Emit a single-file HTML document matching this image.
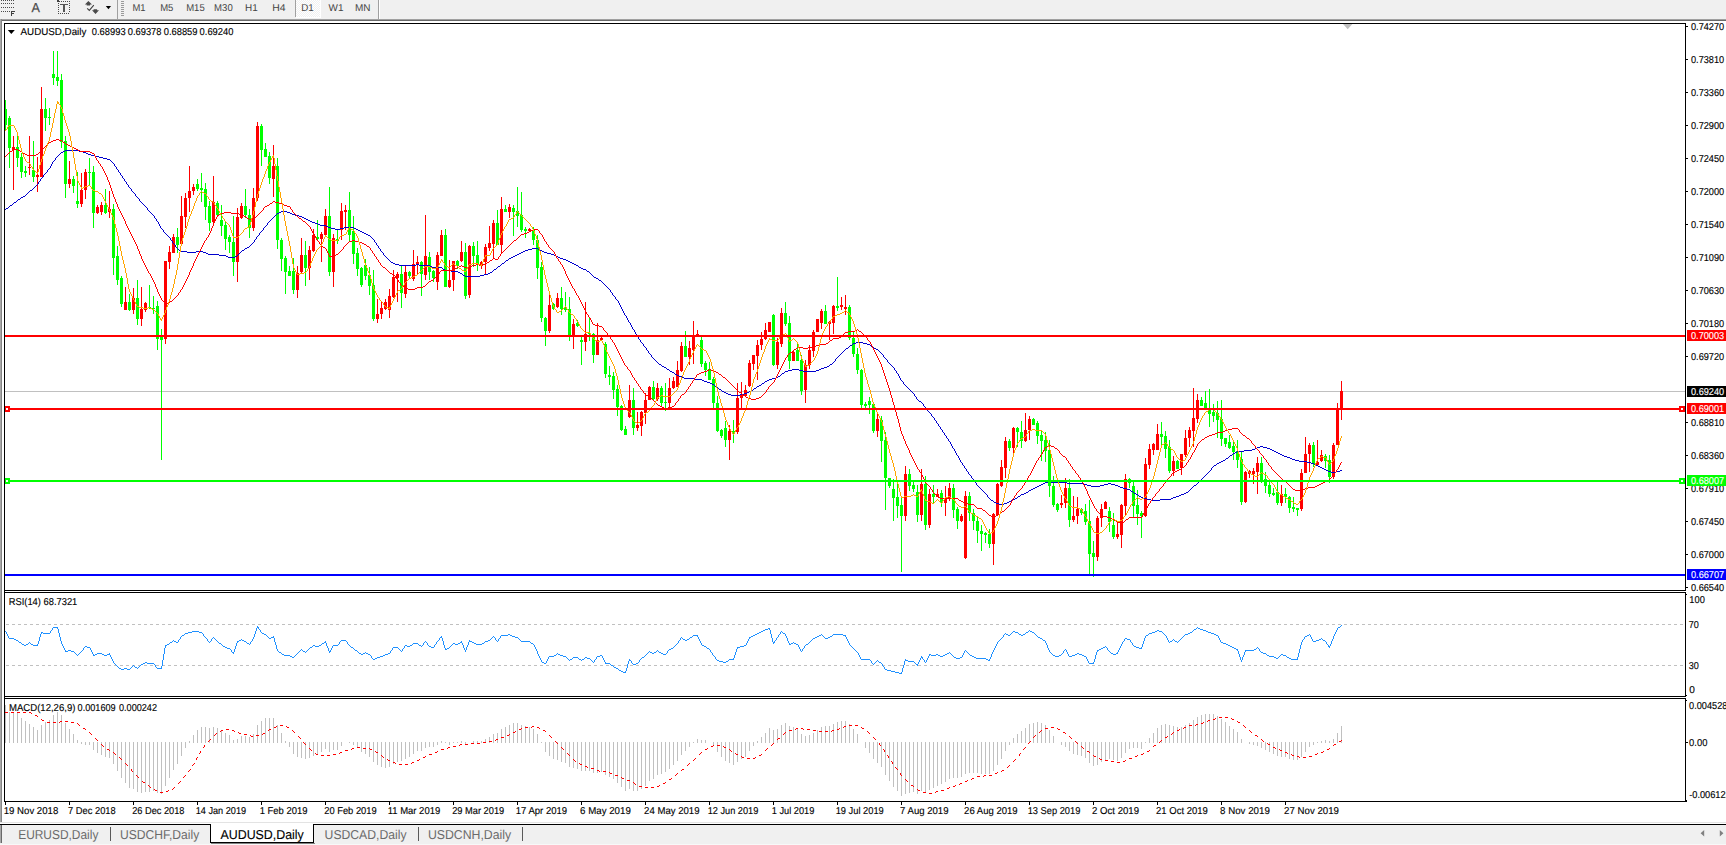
<!DOCTYPE html>
<html><head><meta charset="utf-8"><title>AUDUSD,Daily</title>
<style>
html,body{margin:0;padding:0;background:#fff;overflow:hidden}
body{width:1726px;height:845px;position:relative;font-family:"Liberation Sans",sans-serif}
svg{position:absolute;left:0;top:0;display:block}
svg text{font-family:"Liberation Sans",sans-serif;white-space:pre;text-rendering:geometricPrecision}
.ce{shape-rendering:crispEdges}
</style></head><body>
<svg width="1726" height="845" viewBox="0 0 1726 845">
<rect width="1726" height="845" fill="#fff"/>
<g class="ce" id="toolbar">
<rect x="0" y="0" width="1726" height="19" fill="#f0f0f0"/>
<rect x="0" y="19" width="1726" height="1" fill="#a0a0a0"/>
<rect x="0" y="20" width="1726" height="1" fill="#696969"/>
<rect x="0" y="19" width="1" height="804" fill="#a8a8a8"/>
<rect x="1" y="19" width="1" height="804" fill="#858585"/>
<rect x="117" y="0" width="1" height="19" fill="#a0a0a0"/>
<rect x="378" y="0" width="1" height="19" fill="#a0a0a0"/>
<rect x="379" y="0" width="1" height="19" fill="#ffffff"/>
<rect x="121" y="1" width="3" height="1" fill="#9a9a9a"/>
<rect x="121" y="3" width="3" height="1" fill="#9a9a9a"/>
<rect x="121" y="5" width="3" height="1" fill="#9a9a9a"/>
<rect x="121" y="7" width="3" height="1" fill="#9a9a9a"/>
<rect x="121" y="9" width="3" height="1" fill="#9a9a9a"/>
<rect x="121" y="11" width="3" height="1" fill="#9a9a9a"/>
<rect x="121" y="13" width="3" height="1" fill="#9a9a9a"/>
<rect x="121" y="15" width="3" height="1" fill="#9a9a9a"/>
<rect x="295" y="0" width="1" height="17" fill="#a0a0a0"/>
<defs><pattern id="chk" width="2" height="2" patternUnits="userSpaceOnUse"><rect width="2" height="2" fill="#f0f0f0"/><rect width="1" height="1" fill="#fff"/><rect x="1" y="1" width="1" height="1" fill="#fff"/></pattern></defs>
<rect x="296" y="0" width="24" height="17" fill="url(#chk)"/>
<rect x="320" y="0" width="1" height="18" fill="#ffffff"/>
<rect x="296" y="17" width="25" height="1" fill="#ffffff"/>
</g>
<g id="tbicons">
<path class="ce" d="M1,0h1v1h-1zM3,0h1v1h-1zM5,0h1v1h-1zM7,0h1v1h-1zM9,0h1v1h-1zM11,0h1v1h-1zM13,0h1v1h-1zM1,3h1v1h-1zM3,3h1v1h-1zM5,3h1v1h-1zM7,3h1v1h-1zM9,3h1v1h-1zM11,3h1v1h-1zM13,3h1v1h-1zM1,7h1v1h-1zM3,7h1v1h-1zM5,7h1v1h-1zM7,7h1v1h-1zM9,7h1v1h-1zM11,7h1v1h-1zM13,7h1v1h-1zM1,11h1v1h-1zM3,11h1v1h-1zM5,11h1v1h-1zM7,11h1v1h-1zM9,11h1v1h-1z" fill="#4a4a4a"/>
<path class="ce" d="M11,11h4v1h-3v1h2v1h-2v2h-1z" fill="#404040"/>
<text x="31.5" y="12.0" font-size="13" fill="#4c4c4c" textLength="8.4" lengthAdjust="spacingAndGlyphs" stroke="#4c4c4c" stroke-width="0.25">A</text>
<path class="ce" d="M61,1h1v1h-1zM63,1h1v1h-1zM65,1h1v1h-1zM67,1h1v1h-1zM69,1h1v1h-1zM58,3h1v1h-1zM58,5h1v1h-1zM58,7h1v1h-1zM58,9h1v1h-1zM58,11h1v1h-1zM58,13h1v1h-1zM69,3h1v1h-1zM69,5h1v1h-1zM69,7h1v1h-1zM69,9h1v1h-1zM69,11h1v1h-1zM60,13h1v1h-1zM62,13h1v1h-1zM64,13h1v1h-1zM66,13h1v1h-1zM68,13h1v1h-1z" fill="#4a4a4a"/>
<path class="ce" d="M57,0h2v1h1v1h-3z" fill="#404040"/>
<path class="ce" d="M60,4h8v1h-3v7h-2v-7h-3z" fill="#555"/>
<path d="M88.4,0.9L92,4.5H90.1V5.6H86.7V4.5H84.9z" fill="#4a4a4a"/>
<path d="M95.5,14L92,10.3H93.6V9.2H97.1V10.3H99z" fill="#4a4a4a"/>
<path d="M87.2,8.3L89.3,10.4L93.8,5.2" stroke="#404040" stroke-width="1.1" fill="none"/>
<path d="M105.8,6.1h5.3l-2.65,3.1z" fill="#000"/>
</g>
<g id="periods">
<text x="132.4" y="11.0" font-size="10.0" fill="#444444" textLength="13.1" lengthAdjust="spacingAndGlyphs">M1</text>
<text x="160.2" y="11.0" font-size="10.0" fill="#444444" textLength="13.2" lengthAdjust="spacingAndGlyphs">M5</text>
<text x="186.2" y="11.0" font-size="10.0" fill="#444444" textLength="18.5" lengthAdjust="spacingAndGlyphs">M15</text>
<text x="214.1" y="11.0" font-size="10.0" fill="#444444" textLength="18.6" lengthAdjust="spacingAndGlyphs">M30</text>
<text x="245.0" y="11.0" font-size="10.0" fill="#444444" textLength="12.7" lengthAdjust="spacingAndGlyphs">H1</text>
<text x="272.2" y="11.0" font-size="10.0" fill="#444444" textLength="13.3" lengthAdjust="spacingAndGlyphs">H4</text>
<text x="301.2" y="11.0" font-size="10.0" fill="#444444" textLength="12.5" lengthAdjust="spacingAndGlyphs">D1</text>
<text x="328.6" y="11.0" font-size="10.0" fill="#444444" textLength="14.9" lengthAdjust="spacingAndGlyphs">W1</text>
<text x="354.9" y="11.0" font-size="10.0" fill="#444444" textLength="15.5" lengthAdjust="spacingAndGlyphs">MN</text>
</g>
<g class="ce"><rect x="5" y="391" width="1680" height="1" fill="#c0c0c0"/></g>
<g id="candles">
<g shape-rendering="crispEdges"><path fill="#00ff00" d="M5,100h1v30h-1zM9,116h1v52h-1zM17,135h1v32h-1zM21,153h1v25h-1zM25,166h1v11h-1zM33,141h1v41h-1zM45,98h1v33h-1zM49,108h1v17h-1zM53,51h1v34h-1zM57,51h1v35h-1zM61,74h1v74h-1zM65,136h1v62h-1zM73,176h1v17h-1zM77,172h1v36h-1zM89,158h1v27h-1zM93,166h1v62h-1zM105,189h1v25h-1zM113,204h1v71h-1zM117,246h1v39h-1zM121,276h1v31h-1zM129,294h1v17h-1zM137,280h1v45h-1zM149,285h1v24h-1zM153,296h1v18h-1zM157,301h1v49h-1zM161,329h1v131h-1zM177,228h1v25h-1zM197,179h1v12h-1zM201,173h1v29h-1zM205,183h1v37h-1zM209,201h1v30h-1zM217,201h1v16h-1zM221,205h1v31h-1zM225,221h1v29h-1zM229,235h1v18h-1zM233,216h1v60h-1zM245,189h1v29h-1zM249,209h1v29h-1zM261,124h1v42h-1zM265,143h1v14h-1zM269,152h1v32h-1zM277,158h1v91h-1zM281,238h1v33h-1zM285,256h1v38h-1zM289,266h1v10h-1zM293,258h1v36h-1zM305,241h1v45h-1zM317,220h1v21h-1zM329,187h1v89h-1zM337,229h1v15h-1zM349,192h1v49h-1zM353,216h1v48h-1zM357,248h1v28h-1zM361,267h1v20h-1zM365,259h1v21h-1zM369,267h1v28h-1zM373,270h1v51h-1zM401,266h1v42h-1zM409,271h1v7h-1zM421,261h1v35h-1zM429,252h1v28h-1zM433,270h1v12h-1zM445,229h1v58h-1zM457,260h1v9h-1zM465,243h1v56h-1zM473,242h1v25h-1zM477,241h1v30h-1zM497,210h1v35h-1zM505,205h1v7h-1zM513,205h1v31h-1zM517,187h1v40h-1zM521,192h1v40h-1zM525,227h1v11h-1zM533,227h1v18h-1zM537,235h1v44h-1zM541,262h1v60h-1zM545,317h1v29h-1zM553,303h1v7h-1zM561,287h1v28h-1zM565,292h1v20h-1zM569,297h1v44h-1zM577,320h1v7h-1zM581,336h1v29h-1zM589,318h1v23h-1zM593,333h1v30h-1zM605,342h1v36h-1zM609,366h1v19h-1zM613,372h1v27h-1zM617,385h1v31h-1zM621,405h1v26h-1zM625,426h1v9h-1zM633,388h1v47h-1zM653,381h1v19h-1zM661,386h1v20h-1zM665,383h1v28h-1zM685,331h1v26h-1zM701,337h1v30h-1zM705,361h1v15h-1zM709,362h1v18h-1zM713,377h1v31h-1zM717,396h1v36h-1zM721,429h1v9h-1zM725,421h1v26h-1zM733,420h1v23h-1zM773,314h1v52h-1zM785,302h1v24h-1zM789,316h1v53h-1zM797,342h1v19h-1zM801,355h1v40h-1zM825,305h1v19h-1zM837,277h1v34h-1zM849,305h1v35h-1zM853,331h1v26h-1zM857,348h1v26h-1zM861,369h1v39h-1zM865,402h1v6h-1zM869,397h1v17h-1zM873,403h1v30h-1zM881,416h1v46h-1zM885,432h1v78h-1zM889,478h1v10h-1zM893,479h1v42h-1zM897,483h1v35h-1zM901,496h1v76h-1zM909,469h1v22h-1zM913,482h1v10h-1zM917,485h1v37h-1zM925,476h1v54h-1zM933,485h1v18h-1zM941,490h1v17h-1zM953,484h1v34h-1zM957,507h1v22h-1zM969,492h1v29h-1zM973,509h1v21h-1zM977,516h1v27h-1zM981,525h1v26h-1zM985,532h1v11h-1zM989,529h1v19h-1zM1009,439h1v12h-1zM1017,427h1v20h-1zM1021,421h1v27h-1zM1033,418h1v7h-1zM1037,421h1v23h-1zM1041,431h1v30h-1zM1045,432h1v30h-1zM1049,440h1v57h-1zM1053,476h1v31h-1zM1057,503h1v9h-1zM1069,479h1v48h-1zM1081,508h1v7h-1zM1085,504h1v21h-1zM1089,500h1v75h-1zM1093,541h1v36h-1zM1109,507h1v25h-1zM1113,513h1v26h-1zM1129,478h1v10h-1zM1133,482h1v35h-1zM1137,490h1v35h-1zM1141,511h1v27h-1zM1161,422h1v23h-1zM1165,431h1v27h-1zM1169,440h1v33h-1zM1177,460h1v9h-1zM1201,397h1v9h-1zM1205,391h1v19h-1zM1209,389h1v38h-1zM1213,404h1v18h-1zM1217,401h1v37h-1zM1221,400h1v46h-1zM1225,438h1v9h-1zM1229,435h1v14h-1zM1233,441h1v19h-1zM1237,440h1v28h-1zM1241,452h1v53h-1zM1261,457h1v26h-1zM1265,472h1v21h-1zM1269,482h1v15h-1zM1273,488h1v8h-1zM1277,481h1v24h-1zM1285,488h1v15h-1zM1289,496h1v17h-1zM1293,497h1v15h-1zM1297,508h1v8h-1zM1313,442h1v25h-1zM1325,454h1v14h-1zM1329,455h1v28h-1zM4,109h3v16h-3zM8,118h3v30h-3zM16,147h3v11h-3zM20,157h3v15h-3zM24,171h3v2h-3zM32,170h3v7h-3zM44,109h3v9h-3zM48,117h3v1h-3zM52,74h3v4h-3zM56,77h3v4h-3zM60,80h3v62h-3zM64,141h3v43h-3zM72,179h3v7h-3zM76,201h3v3h-3zM88,172h3v1h-3zM92,172h3v41h-3zM104,205h3v8h-3zM112,209h3v49h-3zM116,256h3v24h-3zM120,278h3v26h-3zM128,302h3v8h-3zM136,298h3v21h-3zM148,307h3v1h-3zM152,308h3v1h-3zM156,306h3v33h-3zM160,336h3v4h-3zM176,237h3v8h-3zM196,184h3v5h-3zM200,188h3v2h-3zM204,189h3v18h-3zM208,206h3v17h-3zM216,203h3v12h-3zM220,220h3v6h-3zM224,225h3v14h-3zM228,237h3v5h-3zM232,242h3v20h-3zM244,206h3v9h-3zM248,215h3v13h-3zM260,126h3v24h-3zM264,149h3v8h-3zM268,156h3v22h-3zM276,166h3v74h-3zM280,240h3v19h-3zM284,258h3v14h-3zM288,271h3v5h-3zM292,271h3v19h-3zM304,255h3v13h-3zM316,237h3v2h-3zM328,216h3v56h-3zM336,239h3v2h-3zM348,210h3v25h-3zM352,231h3v23h-3zM356,253h3v16h-3zM360,268h3v17h-3zM364,265h3v11h-3zM368,275h3v11h-3zM372,285h3v34h-3zM400,274h3v19h-3zM408,272h3v4h-3zM420,262h3v12h-3zM428,257h3v15h-3zM432,271h3v7h-3zM444,235h3v52h-3zM456,261h3v5h-3zM464,252h3v44h-3zM472,246h3v10h-3zM476,255h3v10h-3zM496,223h3v22h-3zM504,209h3v3h-3zM512,208h3v4h-3zM516,211h3v5h-3zM520,215h3v15h-3zM524,229h3v2h-3zM532,230h3v10h-3zM536,240h3v28h-3zM540,267h3v51h-3zM544,318h3v13h-3zM552,304h3v5h-3zM560,298h3v11h-3zM564,308h3v2h-3zM568,309h3v26h-3zM576,323h3v3h-3zM580,340h3v2h-3zM588,333h3v1h-3zM592,334h3v21h-3zM604,344h3v30h-3zM608,375h3v2h-3zM612,376h3v14h-3zM616,389h3v18h-3zM620,406h3v24h-3zM624,429h3v6h-3zM632,400h3v28h-3zM652,387h3v12h-3zM660,388h3v15h-3zM664,402h3v1h-3zM684,346h3v11h-3zM700,340h3v24h-3zM704,363h3v7h-3zM708,369h3v11h-3zM712,379h3v24h-3zM716,403h3v28h-3zM720,430h3v6h-3zM724,428h3v12h-3zM732,431h3v2h-3zM772,315h3v50h-3zM784,313h3v11h-3zM788,323h3v38h-3zM796,350h3v11h-3zM800,360h3v31h-3zM824,311h3v13h-3zM836,306h3v2h-3zM848,307h3v31h-3zM852,338h3v16h-3zM856,354h3v16h-3zM860,370h3v35h-3zM864,404h3v2h-3zM868,401h3v4h-3zM872,404h3v27h-3zM880,420h3v21h-3zM884,440h3v38h-3zM888,478h3v8h-3zM892,489h3v9h-3zM896,497h3v9h-3zM900,505h3v11h-3zM908,474h3v12h-3zM912,485h3v4h-3zM916,492h3v23h-3zM924,484h3v41h-3zM932,494h3v3h-3zM940,493h3v10h-3zM952,488h3v22h-3zM956,509h3v12h-3zM968,496h3v17h-3zM972,513h3v8h-3zM976,521h3v10h-3zM980,531h3v3h-3zM984,533h3v2h-3zM988,534h3v10h-3zM1008,441h3v7h-3zM1016,428h3v4h-3zM1020,432h3v9h-3zM1032,419h3v6h-3zM1036,423h3v13h-3zM1040,435h3v6h-3zM1044,440h3v11h-3zM1048,450h3v36h-3zM1052,486h3v19h-3zM1056,504h3v6h-3zM1068,488h3v32h-3zM1080,509h3v4h-3zM1084,511h3v11h-3zM1088,521h3v33h-3zM1092,553h3v4h-3zM1108,511h3v11h-3zM1112,525h3v12h-3zM1128,479h3v4h-3zM1132,486h3v20h-3zM1136,505h3v9h-3zM1140,513h3v3h-3zM1160,434h3v3h-3zM1164,436h3v13h-3zM1168,447h3v24h-3zM1176,461h3v8h-3zM1200,400h3v6h-3zM1204,403h3v5h-3zM1208,408h3v6h-3zM1212,412h3v4h-3zM1216,413h3v7h-3zM1220,419h3v20h-3zM1224,438h3v6h-3zM1228,442h3v6h-3zM1232,446h3v6h-3zM1236,451h3v9h-3zM1240,459h3v43h-3zM1260,463h3v18h-3zM1264,479h3v7h-3zM1268,485h3v9h-3zM1272,493h3v2h-3zM1276,492h3v11h-3zM1284,494h3v3h-3zM1288,497h3v11h-3zM1292,507h3v2h-3zM1296,508h3v2h-3zM1312,445h3v19h-3zM1324,456h3v5h-3zM1328,460h3v17h-3z"/><path fill="#ff0000" d="M13,136h1v54h-1zM29,136h1v39h-1zM37,157h1v35h-1zM41,87h1v90h-1zM69,161h1v27h-1zM81,173h1v34h-1zM85,169h1v30h-1zM97,205h1v9h-1zM101,202h1v13h-1zM109,191h1v27h-1zM125,287h1v23h-1zM133,288h1v26h-1zM141,287h1v39h-1zM145,302h1v10h-1zM165,261h1v83h-1zM169,246h1v23h-1zM173,234h1v19h-1zM181,196h1v49h-1zM185,193h1v35h-1zM189,166h1v46h-1zM193,184h1v11h-1zM213,176h1v48h-1zM237,208h1v74h-1zM241,203h1v16h-1zM253,188h1v43h-1zM257,122h1v79h-1zM273,145h1v52h-1zM297,266h1v32h-1zM301,238h1v35h-1zM309,246h1v34h-1zM313,229h1v23h-1zM321,232h1v30h-1zM325,209h1v26h-1zM333,234h1v53h-1zM341,203h1v37h-1zM345,205h1v25h-1zM377,299h1v24h-1zM381,302h1v17h-1zM385,299h1v11h-1zM389,289h1v29h-1zM393,270h1v28h-1zM397,272h1v30h-1zM405,266h1v32h-1zM413,250h1v31h-1zM417,256h1v18h-1zM425,215h1v65h-1zM437,252h1v38h-1zM441,230h1v26h-1zM449,260h1v28h-1zM453,261h1v30h-1zM461,241h1v21h-1zM469,245h1v53h-1zM481,261h1v8h-1zM485,244h1v30h-1zM489,226h1v25h-1zM493,220h1v38h-1zM501,197h1v56h-1zM509,204h1v14h-1zM529,228h1v3h-1zM549,294h1v39h-1zM557,293h1v15h-1zM573,319h1v30h-1zM585,302h1v49h-1zM597,323h1v32h-1zM601,337h1v3h-1zM629,385h1v33h-1zM637,412h1v19h-1zM641,411h1v25h-1zM645,393h1v31h-1zM649,386h1v14h-1zM657,383h1v18h-1zM669,378h1v29h-1zM673,377h1v12h-1zM677,361h1v26h-1zM681,342h1v30h-1zM689,341h1v24h-1zM693,321h1v43h-1zM697,330h1v7h-1zM729,425h1v35h-1zM737,383h1v51h-1zM741,382h1v26h-1zM745,385h1v11h-1zM749,360h1v27h-1zM753,355h1v15h-1zM757,340h1v40h-1zM761,332h1v18h-1zM765,323h1v17h-1zM769,322h1v10h-1zM777,338h1v31h-1zM781,308h1v39h-1zM793,351h1v10h-1zM805,360h1v43h-1zM809,345h1v24h-1zM813,330h1v27h-1zM817,319h1v13h-1zM821,309h1v20h-1zM829,321h1v19h-1zM833,305h1v29h-1zM841,297h1v13h-1zM845,295h1v20h-1zM877,413h1v24h-1zM905,466h1v55h-1zM921,469h1v52h-1zM929,489h1v39h-1zM937,489h1v8h-1zM945,486h1v30h-1zM949,483h1v18h-1zM961,514h1v8h-1zM965,491h1v68h-1zM993,513h1v52h-1zM997,483h1v33h-1zM1001,460h1v27h-1zM1005,437h1v41h-1zM1013,427h1v26h-1zM1025,413h1v29h-1zM1029,416h1v24h-1zM1061,495h1v13h-1zM1065,478h1v30h-1zM1073,496h1v26h-1zM1077,497h1v27h-1zM1097,516h1v45h-1zM1101,504h1v23h-1zM1105,501h1v8h-1zM1117,522h1v17h-1zM1121,504h1v44h-1zM1125,474h1v41h-1zM1145,458h1v59h-1zM1149,444h1v25h-1zM1153,443h1v12h-1zM1157,424h1v26h-1zM1173,456h1v20h-1zM1181,454h1v21h-1zM1185,430h1v27h-1zM1189,427h1v20h-1zM1193,388h1v59h-1zM1197,394h1v29h-1zM1245,471h1v32h-1zM1249,470h1v8h-1zM1253,468h1v16h-1zM1257,457h1v37h-1zM1281,485h1v21h-1zM1301,469h1v42h-1zM1305,437h1v36h-1zM1309,443h1v29h-1zM1317,440h1v25h-1zM1321,450h1v12h-1zM1333,443h1v36h-1zM1337,403h1v42h-1zM1341,381h1v39h-1zM12,147h3v3h-3zM28,167h3v1h-3zM36,175h3v2h-3zM40,109h3v68h-3zM68,179h3v5h-3zM80,190h3v14h-3zM84,172h3v18h-3zM96,207h3v6h-3zM100,205h3v7h-3zM108,209h3v3h-3zM124,302h3v8h-3zM132,298h3v12h-3zM140,309h3v10h-3zM144,303h3v7h-3zM164,261h3v78h-3zM168,252h3v10h-3zM172,237h3v16h-3zM180,216h3v28h-3zM184,198h3v19h-3zM188,191h3v7h-3zM192,187h3v4h-3zM212,202h3v20h-3zM236,217h3v45h-3zM240,206h3v12h-3zM252,198h3v30h-3zM256,126h3v72h-3zM272,166h3v13h-3zM296,273h3v17h-3zM300,255h3v17h-3zM308,250h3v18h-3zM312,235h3v16h-3zM320,234h3v5h-3zM324,216h3v19h-3zM332,238h3v34h-3zM340,211h3v19h-3zM344,210h3v2h-3zM376,314h3v5h-3zM380,308h3v6h-3zM384,302h3v7h-3zM388,296h3v14h-3zM392,277h3v20h-3zM396,274h3v4h-3zM404,272h3v22h-3zM412,264h3v15h-3zM416,262h3v3h-3zM424,256h3v19h-3zM436,255h3v27h-3zM440,235h3v21h-3zM448,280h3v7h-3zM452,261h3v19h-3zM460,252h3v9h-3zM468,246h3v49h-3zM480,262h3v3h-3zM484,247h3v15h-3zM488,243h3v5h-3zM492,223h3v21h-3zM500,209h3v36h-3zM508,207h3v5h-3zM528,229h3v2h-3zM548,305h3v26h-3zM556,298h3v9h-3zM572,324h3v12h-3zM584,334h3v8h-3zM596,340h3v15h-3zM600,338h3v2h-3zM628,400h3v17h-3zM636,425h3v3h-3zM640,412h3v14h-3zM644,400h3v13h-3zM648,387h3v13h-3zM656,388h3v11h-3zM668,388h3v15h-3zM672,381h3v7h-3zM676,370h3v17h-3zM680,346h3v25h-3zM688,348h3v9h-3zM692,336h3v14h-3zM696,334h3v2h-3zM728,431h3v9h-3zM736,398h3v34h-3zM740,395h3v3h-3zM744,390h3v6h-3zM748,363h3v23h-3zM752,355h3v9h-3zM756,345h3v11h-3zM760,339h3v6h-3zM764,330h3v9h-3zM768,322h3v10h-3zM776,342h3v23h-3zM780,313h3v31h-3zM792,352h3v9h-3zM804,365h3v25h-3zM808,350h3v15h-3zM812,332h3v19h-3zM816,319h3v13h-3zM820,311h3v12h-3zM828,322h3v2h-3zM832,306h3v17h-3zM840,305h3v2h-3zM844,307h3v2h-3zM876,419h3v12h-3zM904,474h3v42h-3zM920,484h3v31h-3zM928,494h3v31h-3zM936,494h3v3h-3zM944,498h3v5h-3zM948,488h3v11h-3zM960,516h3v5h-3zM964,496h3v62h-3zM992,514h3v30h-3zM996,484h3v31h-3zM1000,467h3v19h-3zM1004,441h3v27h-3zM1012,428h3v20h-3zM1024,430h3v11h-3zM1028,419h3v11h-3zM1060,503h3v2h-3zM1064,488h3v15h-3zM1072,516h3v4h-3zM1076,509h3v7h-3zM1096,518h3v39h-3zM1100,509h3v9h-3zM1104,502h3v7h-3zM1116,534h3v3h-3zM1120,505h3v30h-3zM1124,479h3v27h-3zM1144,464h3v52h-3zM1148,449h3v16h-3zM1152,444h3v6h-3zM1156,434h3v16h-3zM1172,461h3v10h-3zM1180,454h3v14h-3zM1184,438h3v17h-3zM1188,430h3v8h-3zM1192,418h3v13h-3zM1196,400h3v19h-3zM1244,472h3v30h-3zM1248,471h3v3h-3zM1252,471h3v3h-3zM1256,463h3v9h-3zM1280,494h3v9h-3zM1300,473h3v36h-3zM1304,454h3v19h-3zM1308,445h3v9h-3zM1316,462h3v3h-3zM1320,455h3v6h-3zM1332,445h3v32h-3zM1336,408h3v37h-3zM1340,391h3v17h-3z"/></g>
</g>
<g id="mas">
<g shape-rendering="crispEdges"><path fill="#0000cd" d="M5,209h1v1h-1zM6,208h2v1h-2zM8,207h1v1h-1zM9,206h1v1h-1zM10,205h2v1h-2zM12,204h1v1h-1zM13,203h1v1h-1zM14,202h2v1h-2zM16,201h1v1h-1zM17,200h1v1h-1zM18,199h2v1h-2zM20,198h1v1h-1zM21,197h2v1h-2zM23,196h2v1h-2zM25,195h1v1h-1zM26,194h1v1h-1zM27,193h1v1h-1zM28,192h1v1h-1zM29,191h1v1h-1zM30,190h2v1h-2zM32,189h1v1h-1zM33,188h1v1h-1zM34,187h1v1h-1zM35,186h1v1h-1zM36,185h1v1h-1zM37,184h1v1h-1zM38,182h1v2h-1zM39,181h1v1h-1zM40,179h1v2h-1zM41,178h1v1h-1zM42,177h1v1h-1zM43,175h1v2h-1zM44,174h1v1h-1zM45,173h1v1h-1zM46,172h1v1h-1zM47,170h1v2h-1zM48,169h1v1h-1zM49,168h1v1h-1zM50,166h1v2h-1zM51,164h1v2h-1zM52,162h1v2h-1zM53,161h1v1h-1zM54,160h1v1h-1zM55,158h1v2h-1zM56,157h1v1h-1zM57,156h1v1h-1zM58,155h1v1h-1zM59,154h1v1h-1zM60,153h1v1h-1zM61,152h2v1h-2zM63,151h2v1h-2zM65,150h14v1h-14zM79,151h4v1h-4zM83,152h3v1h-3zM86,153h2v1h-2zM88,154h3v1h-3zM91,155h4v1h-4zM95,156h4v1h-4zM99,157h4v1h-4zM103,158h4v1h-4zM107,159h3v1h-3zM110,160h1v1h-1zM111,161h1v1h-1zM112,162h1v1h-1zM113,163h1v1h-1zM114,164h1v2h-1zM115,166h1v1h-1zM116,167h1v2h-1zM117,169h1v1h-1zM118,170h1v2h-1zM119,172h1v1h-1zM120,173h1v2h-1zM121,175h1v1h-1zM122,176h1v2h-1zM123,178h1v1h-1zM124,179h1v2h-1zM125,181h1v1h-1zM126,182h1v2h-1zM127,184h1v1h-1zM128,185h1v2h-1zM129,187h1v1h-1zM130,188h1v1h-1zM131,189h1v2h-1zM132,191h1v1h-1zM133,192h1v1h-1zM134,193h1v1h-1zM135,194h1v2h-1zM136,196h1v1h-1zM137,197h1v1h-1zM138,198h1v1h-1zM139,199h1v2h-1zM140,201h1v1h-1zM141,202h1v1h-1zM142,203h1v1h-1zM143,204h1v1h-1zM144,205h1v1h-1zM145,206h1v1h-1zM146,207h1v1h-1zM147,208h1v2h-1zM148,210h1v1h-1zM149,211h1v1h-1zM150,212h1v1h-1zM151,213h1v1h-1zM152,214h1v1h-1zM153,215h1v1h-1zM154,216h1v2h-1zM155,218h1v1h-1zM156,219h1v2h-1zM157,221h1v1h-1zM158,222h1v2h-1zM159,224h1v2h-1zM160,226h1v2h-1zM161,228h1v1h-1zM162,229h1v1h-1zM163,230h1v2h-1zM164,232h1v1h-1zM165,233h1v1h-1zM166,234h1v1h-1zM167,235h1v1h-1zM168,236h1v1h-1zM169,237h1v1h-1zM170,238h1v2h-1zM171,240h1v1h-1zM172,241h1v2h-1zM173,243h1v1h-1zM174,244h1v1h-1zM175,245h1v2h-1zM176,247h1v1h-1zM177,248h1v1h-1zM178,249h1v1h-1zM179,250h2v1h-2zM181,251h6v1h-6zM187,252h9v1h-9zM196,251h7v1h-7zM203,252h3v1h-3zM206,253h2v1h-2zM208,254h11v1h-11zM219,255h7v1h-7zM226,256h2v1h-2zM228,257h7v1h-7zM235,256h2v1h-2zM237,255h1v1h-1zM238,254h1v1h-1zM239,253h1v1h-1zM240,252h1v1h-1zM241,251h1v1h-1zM242,250h2v1h-2zM244,249h1v1h-1zM245,248h2v1h-2zM247,247h2v1h-2zM249,246h1v1h-1zM250,245h1v1h-1zM251,244h1v1h-1zM252,243h1v1h-1zM253,242h1v1h-1zM254,240h1v2h-1zM255,239h1v1h-1zM256,237h1v2h-1zM257,236h1v1h-1zM258,235h1v1h-1zM259,233h1v2h-1zM260,232h1v1h-1zM261,231h1v1h-1zM262,230h1v1h-1zM263,228h1v2h-1zM264,227h1v1h-1zM265,226h1v1h-1zM266,225h1v1h-1zM267,223h1v2h-1zM268,222h1v1h-1zM269,221h1v1h-1zM270,220h1v1h-1zM271,219h1v1h-1zM272,218h1v1h-1zM273,217h1v1h-1zM274,216h1v1h-1zM275,215h1v1h-1zM276,214h1v1h-1zM277,213h2v1h-2zM279,212h2v1h-2zM281,211h6v1h-6zM287,212h3v1h-3zM290,213h2v1h-2zM292,214h3v1h-3zM295,215h4v1h-4zM299,216h3v1h-3zM302,217h2v1h-2zM304,218h2v1h-2zM306,219h2v1h-2zM308,220h2v1h-2zM310,221h2v1h-2zM312,222h3v1h-3zM315,223h3v1h-3zM318,224h2v1h-2zM320,225h6v1h-6zM326,226h2v1h-2zM328,227h3v1h-3zM331,228h4v1h-4zM335,229h5v1h-5zM340,228h4v1h-4zM344,227h10v1h-10zM354,228h2v1h-2zM356,229h2v1h-2zM358,230h2v1h-2zM360,231h2v1h-2zM362,232h2v1h-2zM364,233h2v1h-2zM366,234h2v1h-2zM368,235h2v1h-2zM370,236h1v1h-1zM371,237h1v1h-1zM372,238h1v1h-1zM373,239h1v1h-1zM374,240h1v2h-1zM375,242h1v1h-1zM376,243h1v2h-1zM377,245h1v1h-1zM378,246h1v2h-1zM379,248h1v1h-1zM380,249h1v2h-1zM381,251h1v1h-1zM382,252h1v1h-1zM383,253h1v2h-1zM384,255h1v1h-1zM385,256h1v1h-1zM386,257h1v1h-1zM387,258h1v1h-1zM388,259h1v1h-1zM389,260h1v1h-1zM390,261h1v1h-1zM391,262h2v1h-2zM393,263h2v1h-2zM395,264h4v1h-4zM399,265h17v1h-17zM416,264h3v1h-3zM419,265h11v1h-11zM430,266h2v1h-2zM432,267h10v1h-10zM442,268h1v1h-1zM443,269h2v1h-2zM445,270h6v1h-6zM451,271h7v1h-7zM458,272h2v1h-2zM460,273h2v1h-2zM462,274h1v1h-1zM463,275h2v1h-2zM465,276h15v1h-15zM480,275h4v1h-4zM484,274h4v1h-4zM488,273h2v1h-2zM490,272h2v1h-2zM492,271h1v1h-1zM493,270h1v1h-1zM494,269h2v1h-2zM496,268h1v1h-1zM497,267h1v1h-1zM498,266h2v1h-2zM500,265h1v1h-1zM501,264h1v1h-1zM502,263h2v1h-2zM504,262h1v1h-1zM505,261h1v1h-1zM506,260h2v1h-2zM508,259h1v1h-1zM509,258h2v1h-2zM511,257h2v1h-2zM513,256h2v1h-2zM515,255h2v1h-2zM517,254h2v1h-2zM519,253h2v1h-2zM521,252h2v1h-2zM523,251h2v1h-2zM525,250h3v1h-3zM528,249h4v1h-4zM532,248h6v1h-6zM538,249h2v1h-2zM540,250h2v1h-2zM542,251h2v1h-2zM544,252h3v1h-3zM547,253h4v1h-4zM551,254h3v1h-3zM554,255h2v1h-2zM556,256h2v1h-2zM558,257h2v1h-2zM560,258h3v1h-3zM563,259h3v1h-3zM566,260h2v1h-2zM568,261h2v1h-2zM570,262h2v1h-2zM572,263h2v1h-2zM574,264h2v1h-2zM576,265h2v1h-2zM578,266h1v1h-1zM579,267h2v1h-2zM581,268h2v1h-2zM583,269h3v1h-3zM586,270h1v1h-1zM587,271h2v1h-2zM589,272h1v1h-1zM590,273h1v1h-1zM591,274h1v1h-1zM592,275h1v1h-1zM593,276h1v1h-1zM594,277h2v1h-2zM596,278h2v1h-2zM598,279h1v1h-1zM599,280h2v1h-2zM601,281h1v1h-1zM602,282h1v1h-1zM603,283h1v1h-1zM604,284h1v1h-1zM605,285h1v1h-1zM606,286h1v1h-1zM607,287h1v1h-1zM608,288h1v1h-1zM609,289h1v1h-1zM610,290h1v2h-1zM611,292h1v1h-1zM612,293h1v2h-1zM613,295h1v1h-1zM614,296h1v1h-1zM615,297h1v2h-1zM616,299h1v1h-1zM617,300h1v1h-1zM618,301h1v2h-1zM619,303h1v2h-1zM620,305h1v2h-1zM621,307h1v2h-1zM622,309h1v2h-1zM623,311h1v2h-1zM624,313h1v2h-1zM625,315h1v1h-1zM626,316h1v2h-1zM627,318h1v2h-1zM628,320h1v2h-1zM629,322h1v1h-1zM630,323h1v2h-1zM631,325h1v2h-1zM632,327h1v2h-1zM633,329h1v1h-1zM634,330h1v2h-1zM635,332h1v2h-1zM636,334h1v2h-1zM637,336h1v1h-1zM638,337h1v2h-1zM639,339h1v1h-1zM640,340h1v2h-1zM641,342h1v1h-1zM642,343h1v1h-1zM643,344h1v2h-1zM644,346h1v1h-1zM645,347h1v1h-1zM646,348h1v2h-1zM647,350h1v1h-1zM648,351h1v2h-1zM649,353h1v1h-1zM650,354h1v1h-1zM651,355h1v2h-1zM652,357h1v1h-1zM653,358h1v1h-1zM654,359h1v1h-1zM655,360h1v1h-1zM656,361h1v1h-1zM657,362h1v1h-1zM658,363h1v1h-1zM659,364h2v1h-2zM661,365h1v1h-1zM662,366h2v1h-2zM664,367h2v1h-2zM666,368h1v1h-1zM667,369h2v1h-2zM669,370h1v1h-1zM670,371h2v1h-2zM672,372h2v1h-2zM674,373h1v1h-1zM675,374h2v1h-2zM677,375h2v1h-2zM679,376h3v1h-3zM682,377h2v1h-2zM684,378h11v1h-11zM695,379h7v1h-7zM702,380h2v1h-2zM704,381h3v1h-3zM707,382h3v1h-3zM710,383h2v1h-2zM712,384h2v1h-2zM714,385h1v1h-1zM715,386h2v1h-2zM717,387h1v1h-1zM718,388h1v1h-1zM719,389h2v1h-2zM721,390h1v1h-1zM722,391h2v1h-2zM724,392h2v1h-2zM726,393h2v1h-2zM728,394h3v1h-3zM731,395h9v1h-9zM740,394h4v1h-4zM744,393h3v1h-3zM747,392h2v1h-2zM749,391h2v1h-2zM751,390h2v1h-2zM753,389h1v1h-1zM754,388h2v1h-2zM756,387h1v1h-1zM757,386h2v1h-2zM759,385h2v1h-2zM761,384h1v1h-1zM762,383h2v1h-2zM764,382h1v1h-1zM765,381h2v1h-2zM767,380h2v1h-2zM769,379h3v1h-3zM772,378h4v1h-4zM776,377h2v1h-2zM778,376h2v1h-2zM780,375h1v1h-1zM781,374h1v1h-1zM782,373h2v1h-2zM784,372h1v1h-1zM785,371h3v1h-3zM788,370h4v1h-4zM792,369h7v1h-7zM799,370h4v1h-4zM803,371h13v1h-13zM816,370h3v1h-3zM819,369h2v1h-2zM821,368h3v1h-3zM824,367h3v1h-3zM827,366h2v1h-2zM829,365h1v1h-1zM830,364h2v1h-2zM832,363h1v1h-1zM833,362h1v1h-1zM834,361h1v1h-1zM835,359h1v2h-1zM836,358h1v1h-1zM837,357h1v1h-1zM838,356h1v1h-1zM839,355h1v1h-1zM840,354h1v1h-1zM841,353h1v1h-1zM842,352h1v1h-1zM843,351h1v1h-1zM844,350h1v1h-1zM845,349h1v1h-1zM846,348h2v1h-2zM848,347h1v1h-1zM849,346h1v1h-1zM850,345h2v1h-2zM852,344h1v1h-1zM853,343h3v1h-3zM856,342h7v1h-7zM863,343h4v1h-4zM867,344h3v1h-3zM870,345h1v1h-1zM871,346h2v1h-2zM873,347h1v1h-1zM874,348h2v1h-2zM876,349h2v1h-2zM878,350h1v1h-1zM879,351h1v1h-1zM880,352h1v1h-1zM881,353h1v1h-1zM882,354h1v1h-1zM883,355h1v2h-1zM884,357h1v1h-1zM885,358h1v1h-1zM886,359h1v1h-1zM887,360h1v2h-1zM888,362h1v1h-1zM889,363h1v1h-1zM890,364h1v1h-1zM891,365h1v1h-1zM892,366h1v1h-1zM893,367h1v1h-1zM894,368h1v2h-1zM895,370h1v1h-1zM896,371h1v2h-1zM897,373h1v1h-1zM898,374h1v2h-1zM899,376h1v2h-1zM900,378h1v2h-1zM901,380h1v1h-1zM902,381h1v1h-1zM903,382h1v2h-1zM904,384h1v1h-1zM905,385h1v1h-1zM906,386h1v1h-1zM907,387h1v1h-1zM908,388h1v1h-1zM909,389h1v1h-1zM910,390h1v1h-1zM911,391h1v1h-1zM912,392h1v1h-1zM913,393h1v1h-1zM914,394h1v2h-1zM915,396h1v1h-1zM916,397h1v2h-1zM917,399h1v1h-1zM918,400h1v1h-1zM919,401h2v1h-2zM921,402h1v1h-1zM922,403h1v1h-1zM923,404h1v2h-1zM924,406h1v1h-1zM925,407h1v1h-1zM926,408h1v1h-1zM927,409h1v2h-1zM928,411h1v1h-1zM929,412h1v1h-1zM930,413h1v1h-1zM931,414h1v2h-1zM932,416h1v1h-1zM933,417h1v1h-1zM934,418h1v2h-1zM935,420h1v1h-1zM936,421h1v2h-1zM937,423h1v1h-1zM938,424h1v2h-1zM939,426h1v1h-1zM940,427h1v2h-1zM941,429h1v1h-1zM942,430h1v2h-1zM943,432h1v1h-1zM944,433h1v2h-1zM945,435h1v1h-1zM946,436h1v2h-1zM947,438h1v1h-1zM948,439h1v2h-1zM949,441h1v1h-1zM950,442h1v2h-1zM951,444h1v2h-1zM952,446h1v2h-1zM953,448h1v1h-1zM954,449h1v2h-1zM955,451h1v2h-1zM956,453h1v2h-1zM957,455h1v1h-1zM958,456h1v2h-1zM959,458h1v2h-1zM960,460h1v2h-1zM961,462h1v1h-1zM962,463h1v2h-1zM963,465h1v1h-1zM964,466h1v2h-1zM965,468h1v1h-1zM966,469h1v2h-1zM967,471h1v1h-1zM968,472h1v2h-1zM969,474h1v1h-1zM970,475h1v1h-1zM971,476h1v2h-1zM972,478h1v1h-1zM973,479h1v1h-1zM974,480h1v2h-1zM975,482h1v1h-1zM976,483h1v2h-1zM977,485h1v1h-1zM978,486h1v1h-1zM979,487h1v1h-1zM980,488h1v1h-1zM981,489h1v1h-1zM982,490h1v1h-1zM983,491h1v1h-1zM984,492h1v1h-1zM985,493h1v1h-1zM986,494h1v1h-1zM987,495h1v2h-1zM988,497h1v1h-1zM989,498h1v1h-1zM990,499h1v1h-1zM991,500h2v1h-2zM993,501h1v1h-1zM994,502h2v1h-2zM996,503h3v1h-3zM999,504h5v1h-5zM1004,503h3v1h-3zM1007,502h2v1h-2zM1009,501h2v1h-2zM1011,500h2v1h-2zM1013,499h2v1h-2zM1015,498h2v1h-2zM1017,497h1v1h-1zM1018,496h2v1h-2zM1020,495h1v1h-1zM1021,494h3v1h-3zM1024,493h2v1h-2zM1026,492h2v1h-2zM1028,491h1v1h-1zM1029,490h2v1h-2zM1031,489h2v1h-2zM1033,488h2v1h-2zM1035,487h2v1h-2zM1037,486h2v1h-2zM1039,485h2v1h-2zM1041,484h2v1h-2zM1043,483h2v1h-2zM1045,482h3v1h-3zM1048,481h3v1h-3zM1051,482h16v1h-16zM1067,483h16v1h-16zM1083,484h4v1h-4zM1087,485h4v1h-4zM1091,486h9v1h-9zM1100,485h4v1h-4zM1104,484h4v1h-4zM1108,483h3v1h-3zM1111,484h4v1h-4zM1115,485h3v1h-3zM1118,486h2v1h-2zM1120,487h3v1h-3zM1123,488h4v1h-4zM1127,489h3v1h-3zM1130,490h1v1h-1zM1131,491h2v1h-2zM1133,492h1v1h-1zM1134,493h2v1h-2zM1136,494h2v1h-2zM1138,495h1v1h-1zM1139,496h2v1h-2zM1141,497h2v1h-2zM1143,498h4v1h-4zM1147,499h4v1h-4zM1151,500h9v1h-9zM1160,499h11v1h-11zM1171,498h2v1h-2zM1173,497h3v1h-3zM1176,496h3v1h-3zM1179,495h2v1h-2zM1181,494h3v1h-3zM1184,493h2v1h-2zM1186,492h2v1h-2zM1188,491h1v1h-1zM1189,490h1v1h-1zM1190,489h1v1h-1zM1191,488h1v1h-1zM1192,487h1v1h-1zM1193,486h1v1h-1zM1194,485h2v1h-2zM1196,484h1v1h-1zM1197,483h1v1h-1zM1198,482h1v1h-1zM1199,481h1v1h-1zM1200,480h1v1h-1zM1201,479h1v1h-1zM1202,478h1v1h-1zM1203,477h1v1h-1zM1204,476h1v1h-1zM1205,475h1v1h-1zM1206,474h1v1h-1zM1207,473h1v1h-1zM1208,472h1v1h-1zM1209,471h1v1h-1zM1210,470h1v1h-1zM1211,468h1v2h-1zM1212,467h1v1h-1zM1213,466h1v1h-1zM1214,465h2v1h-2zM1216,464h1v1h-1zM1217,463h2v1h-2zM1219,462h2v1h-2zM1221,461h2v1h-2zM1223,460h2v1h-2zM1225,459h1v1h-1zM1226,458h2v1h-2zM1228,457h1v1h-1zM1229,456h1v1h-1zM1230,455h2v1h-2zM1232,454h1v1h-1zM1233,453h2v1h-2zM1235,452h2v1h-2zM1237,451h7v1h-7zM1244,450h8v1h-8zM1252,449h3v1h-3zM1255,448h2v1h-2zM1257,447h3v1h-3zM1260,446h3v1h-3zM1263,447h4v1h-4zM1267,448h3v1h-3zM1270,449h2v1h-2zM1272,450h2v1h-2zM1274,451h2v1h-2zM1276,452h2v1h-2zM1278,453h2v1h-2zM1280,454h2v1h-2zM1282,455h2v1h-2zM1284,456h3v1h-3zM1287,457h3v1h-3zM1290,458h2v1h-2zM1292,459h3v1h-3zM1295,460h4v1h-4zM1299,461h8v1h-8zM1307,462h4v1h-4zM1311,463h3v1h-3zM1314,464h2v1h-2zM1316,465h2v1h-2zM1318,466h2v1h-2zM1320,467h2v1h-2zM1322,468h2v1h-2zM1324,469h2v1h-2zM1326,470h2v1h-2zM1328,471h3v1h-3zM1331,472h5v1h-5zM1336,471h4v1h-4zM1340,470h2v1h-2z"/><path fill="#ff0000" d="M5,156h1v1h-1zM6,155h1v1h-1zM7,154h1v1h-1zM8,153h1v1h-1zM9,152h1v1h-1zM10,151h2v1h-2zM12,150h1v1h-1zM13,149h5v1h-5zM18,150h2v1h-2zM20,151h2v1h-2zM22,152h1v1h-1zM23,153h2v1h-2zM25,154h2v1h-2zM27,155h9v1h-9zM36,154h2v1h-2zM38,153h1v1h-1zM39,152h1v1h-1zM40,151h1v1h-1zM41,150h1v1h-1zM42,149h1v1h-1zM43,148h1v1h-1zM44,147h1v1h-1zM45,146h1v1h-1zM46,145h1v1h-1zM47,144h1v1h-1zM48,143h1v1h-1zM49,142h2v1h-2zM51,141h2v1h-2zM53,140h3v1h-3zM56,139h3v1h-3zM59,140h3v1h-3zM62,141h1v1h-1zM63,142h2v1h-2zM65,143h1v1h-1zM66,144h2v1h-2zM68,145h2v1h-2zM70,146h2v1h-2zM72,147h2v1h-2zM74,148h2v1h-2zM76,149h2v1h-2zM78,150h2v1h-2zM80,151h10v1h-10zM90,152h2v1h-2zM92,153h2v1h-2zM94,154h1v2h-1zM95,156h1v2h-1zM96,158h1v2h-1zM97,160h1v1h-1zM98,161h1v2h-1zM99,163h1v1h-1zM100,164h1v2h-1zM101,166h1v1h-1zM102,167h1v2h-1zM103,169h1v2h-1zM104,171h1v2h-1zM105,173h1v2h-1zM106,175h1v2h-1zM107,177h1v3h-1zM108,180h1v2h-1zM109,182h1v3h-1zM110,185h1v3h-1zM111,188h1v3h-1zM112,191h1v3h-1zM113,194h1v3h-1zM114,197h1v2h-1zM115,199h1v3h-1zM116,202h1v2h-1zM117,204h1v3h-1zM118,207h1v2h-1zM119,209h1v2h-1zM120,211h1v2h-1zM121,213h1v2h-1zM122,215h1v2h-1zM123,217h1v2h-1zM124,219h1v2h-1zM125,221h1v3h-1zM126,224h1v2h-1zM127,226h1v2h-1zM128,228h1v2h-1zM129,230h1v2h-1zM130,232h1v2h-1zM131,234h1v2h-1zM132,236h1v2h-1zM133,238h1v2h-1zM134,240h1v2h-1zM135,242h1v2h-1zM136,244h1v2h-1zM137,246h1v3h-1zM138,249h1v2h-1zM139,251h1v3h-1zM140,254h1v2h-1zM141,256h1v3h-1zM142,259h1v2h-1zM143,261h1v2h-1zM144,263h1v2h-1zM145,265h1v2h-1zM146,267h1v2h-1zM147,269h1v2h-1zM148,271h1v2h-1zM149,273h1v1h-1zM150,274h1v2h-1zM151,276h1v2h-1zM152,278h1v2h-1zM153,280h1v2h-1zM154,282h1v2h-1zM155,284h1v3h-1zM156,287h1v2h-1zM157,289h1v3h-1zM158,292h1v2h-1zM159,294h1v2h-1zM160,296h1v2h-1zM161,298h1v2h-1zM162,300h1v1h-1zM163,301h1v1h-1zM164,302h1v1h-1zM165,303h3v1h-3zM168,302h2v1h-2zM170,301h2v1h-2zM172,300h1v1h-1zM173,299h1v1h-1zM174,298h1v1h-1zM175,297h1v1h-1zM176,296h1v1h-1zM177,295h1v1h-1zM178,293h1v2h-1zM179,292h1v1h-1zM180,290h1v2h-1zM181,289h1v1h-1zM182,287h1v2h-1zM183,285h1v2h-1zM184,283h1v2h-1zM185,281h1v2h-1zM186,279h1v2h-1zM187,277h1v2h-1zM188,275h1v2h-1zM189,272h1v3h-1zM190,270h1v2h-1zM191,268h1v2h-1zM192,266h1v2h-1zM193,263h1v3h-1zM194,261h1v2h-1zM195,259h1v2h-1zM196,257h1v2h-1zM197,255h1v2h-1zM198,253h1v2h-1zM199,251h1v2h-1zM200,249h1v2h-1zM201,247h1v2h-1zM202,245h1v2h-1zM203,243h1v2h-1zM204,241h1v2h-1zM205,240h1v1h-1zM206,238h1v2h-1zM207,237h1v1h-1zM208,235h1v2h-1zM209,233h1v2h-1zM210,231h1v2h-1zM211,228h1v3h-1zM212,226h1v2h-1zM213,223h1v3h-1zM214,221h1v2h-1zM215,219h1v2h-1zM216,217h1v2h-1zM217,215h1v2h-1zM218,215h1v1h-1zM219,214h2v1h-2zM221,213h3v1h-3zM224,212h7v1h-7zM231,213h8v1h-8zM239,214h3v1h-3zM242,215h2v1h-2zM244,216h2v1h-2zM246,217h1v1h-1zM247,218h2v1h-2zM249,219h5v1h-5zM254,218h1v1h-1zM255,217h1v1h-1zM256,216h1v1h-1zM257,215h1v1h-1zM258,214h1v1h-1zM259,213h1v1h-1zM260,212h1v1h-1zM261,211h1v1h-1zM262,210h1v1h-1zM263,208h1v2h-1zM264,207h1v1h-1zM265,206h2v1h-2zM267,205h2v1h-2zM269,204h1v1h-1zM270,203h2v1h-2zM272,202h1v1h-1zM273,201h2v1h-2zM275,202h4v1h-4zM279,203h3v1h-3zM282,204h2v1h-2zM284,205h3v1h-3zM287,206h3v1h-3zM290,207h1v2h-1zM291,209h1v1h-1zM292,210h1v2h-1zM293,212h1v1h-1zM294,213h1v1h-1zM295,214h1v1h-1zM296,215h1v1h-1zM297,216h1v1h-1zM298,217h1v1h-1zM299,218h2v1h-2zM301,219h1v1h-1zM302,220h1v1h-1zM303,221h2v1h-2zM305,222h1v1h-1zM306,223h1v1h-1zM307,224h1v1h-1zM308,225h1v1h-1zM309,226h1v1h-1zM310,227h1v2h-1zM311,229h1v2h-1zM312,231h1v2h-1zM313,233h1v1h-1zM314,234h1v2h-1zM315,236h1v2h-1zM316,238h1v2h-1zM317,240h1v1h-1zM318,241h1v1h-1zM319,242h1v2h-1zM320,244h1v1h-1zM321,245h1v1h-1zM322,246h1v1h-1zM323,247h2v1h-2zM325,248h1v1h-1zM326,249h1v2h-1zM327,251h1v2h-1zM328,253h1v2h-1zM329,255h1v2h-1zM330,256h2v1h-2zM332,255h4v1h-4zM336,254h2v1h-2zM338,253h1v1h-1zM339,252h1v1h-1zM340,251h1v1h-1zM341,250h1v1h-1zM342,249h1v1h-1zM343,247h1v2h-1zM344,246h1v1h-1zM345,245h1v1h-1zM346,244h1v1h-1zM347,243h1v1h-1zM348,242h1v1h-1zM349,241h3v1h-3zM352,240h3v1h-3zM355,241h4v1h-4zM359,242h3v1h-3zM362,243h2v1h-2zM364,244h2v1h-2zM366,245h1v1h-1zM367,246h2v1h-2zM369,247h1v1h-1zM370,248h1v2h-1zM371,250h1v1h-1zM372,251h1v2h-1zM373,253h1v1h-1zM374,254h1v2h-1zM375,256h1v1h-1zM376,257h1v2h-1zM377,259h1v1h-1zM378,260h1v2h-1zM379,262h1v1h-1zM380,263h1v2h-1zM381,265h1v1h-1zM382,266h1v1h-1zM383,267h2v1h-2zM385,268h1v1h-1zM386,269h1v1h-1zM387,270h1v1h-1zM388,271h1v1h-1zM389,272h1v1h-1zM390,273h2v1h-2zM392,274h2v1h-2zM394,275h1v1h-1zM395,276h1v2h-1zM396,278h1v1h-1zM397,279h1v1h-1zM398,280h1v2h-1zM399,282h1v1h-1zM400,283h1v2h-1zM401,285h1v1h-1zM402,286h2v1h-2zM404,287h2v1h-2zM406,288h2v1h-2zM408,289h7v1h-7zM415,288h2v1h-2zM417,287h6v1h-6zM423,286h2v1h-2zM425,285h1v1h-1zM426,284h1v1h-1zM427,283h1v1h-1zM428,282h1v1h-1zM429,281h2v1h-2zM431,280h2v1h-2zM433,279h1v1h-1zM434,278h1v1h-1zM435,277h1v1h-1zM436,276h1v1h-1zM437,275h1v1h-1zM438,274h1v1h-1zM439,272h1v2h-1zM440,271h1v1h-1zM441,270h11v1h-11zM452,269h3v1h-3zM455,268h2v1h-2zM457,267h2v1h-2zM459,266h2v1h-2zM461,265h1v1h-1zM462,266h2v1h-2zM464,267h4v1h-4zM468,266h4v1h-4zM472,265h4v1h-4zM476,264h3v1h-3zM479,265h4v1h-4zM483,264h2v1h-2zM485,263h2v1h-2zM487,262h2v1h-2zM489,261h1v1h-1zM490,260h2v1h-2zM492,259h1v1h-1zM493,258h2v1h-2zM495,259h3v1h-3zM498,257h1v2h-1zM499,256h1v1h-1zM500,254h1v2h-1zM501,253h1v1h-1zM502,252h1v1h-1zM503,251h1v1h-1zM504,250h1v1h-1zM505,249h1v1h-1zM506,248h1v1h-1zM507,247h1v1h-1zM508,246h1v1h-1zM509,245h1v1h-1zM510,244h1v1h-1zM511,243h1v1h-1zM512,242h1v1h-1zM513,241h1v1h-1zM514,240h2v1h-2zM516,239h1v1h-1zM517,238h1v1h-1zM518,237h1v1h-1zM519,236h1v1h-1zM520,235h1v1h-1zM521,234h3v1h-3zM524,233h3v1h-3zM527,232h2v1h-2zM529,231h2v1h-2zM531,230h2v1h-2zM533,229h5v1h-5zM538,230h1v1h-1zM539,231h1v2h-1zM540,233h1v1h-1zM541,234h1v1h-1zM542,235h1v2h-1zM543,237h1v2h-1zM544,239h1v2h-1zM545,241h1v1h-1zM546,242h1v2h-1zM547,244h1v1h-1zM548,245h1v2h-1zM549,247h1v1h-1zM550,248h1v1h-1zM551,249h1v1h-1zM552,250h1v1h-1zM553,251h1v1h-1zM554,252h1v2h-1zM555,254h1v2h-1zM556,256h1v2h-1zM557,258h1v1h-1zM558,259h1v2h-1zM559,261h1v1h-1zM560,262h1v2h-1zM561,264h1v1h-1zM562,265h1v2h-1zM563,267h1v2h-1zM564,269h1v2h-1zM565,271h1v3h-1zM566,274h1v2h-1zM567,276h1v2h-1zM568,278h1v2h-1zM569,280h1v2h-1zM570,282h1v2h-1zM571,284h1v2h-1zM572,286h1v2h-1zM573,288h1v1h-1zM574,289h1v2h-1zM575,291h1v2h-1zM576,293h1v2h-1zM577,295h1v1h-1zM578,296h1v2h-1zM579,298h1v2h-1zM580,300h1v2h-1zM581,302h1v2h-1zM582,304h1v2h-1zM583,306h1v2h-1zM584,308h1v2h-1zM585,310h1v2h-1zM586,312h1v2h-1zM587,314h1v1h-1zM588,315h1v2h-1zM589,317h1v1h-1zM590,318h1v2h-1zM591,320h1v2h-1zM592,322h1v2h-1zM593,324h2v1h-2zM595,325h4v1h-4zM599,326h3v1h-3zM602,327h1v1h-1zM603,328h1v2h-1zM604,330h1v1h-1zM605,331h1v1h-1zM606,332h1v1h-1zM607,333h1v2h-1zM608,335h1v1h-1zM609,336h1v1h-1zM610,337h1v2h-1zM611,339h1v1h-1zM612,340h1v2h-1zM613,342h1v1h-1zM614,343h1v2h-1zM615,345h1v2h-1zM616,347h1v2h-1zM617,349h1v2h-1zM618,351h1v2h-1zM619,353h1v2h-1zM620,355h1v2h-1zM621,357h1v2h-1zM622,359h1v2h-1zM623,361h1v2h-1zM624,363h1v2h-1zM625,365h1v1h-1zM626,366h1v1h-1zM627,367h1v2h-1zM628,369h1v1h-1zM629,370h1v1h-1zM630,371h1v2h-1zM631,373h1v2h-1zM632,375h1v2h-1zM633,377h1v1h-1zM634,378h1v2h-1zM635,380h1v1h-1zM636,381h1v2h-1zM637,383h1v1h-1zM638,384h1v2h-1zM639,386h1v1h-1zM640,387h1v2h-1zM641,389h1v1h-1zM642,390h1v1h-1zM643,391h1v2h-1zM644,393h1v1h-1zM645,394h1v1h-1zM646,395h2v1h-2zM648,396h2v1h-2zM650,397h1v1h-1zM651,398h1v1h-1zM652,399h1v1h-1zM653,400h1v1h-1zM654,401h1v1h-1zM655,402h1v1h-1zM656,403h1v1h-1zM657,404h1v1h-1zM658,405h2v1h-2zM660,406h2v1h-2zM662,407h2v1h-2zM664,408h4v1h-4zM668,407h4v1h-4zM672,406h2v1h-2zM674,405h1v1h-1zM675,403h1v2h-1zM676,402h1v1h-1zM677,401h1v1h-1zM678,399h1v2h-1zM679,398h1v1h-1zM680,396h1v2h-1zM681,395h1v1h-1zM682,394h2v1h-2zM684,393h1v1h-1zM685,392h1v1h-1zM686,390h1v2h-1zM687,389h1v1h-1zM688,387h1v2h-1zM689,386h1v1h-1zM690,384h1v2h-1zM691,383h1v1h-1zM692,381h1v2h-1zM693,380h1v1h-1zM694,378h1v2h-1zM695,377h1v1h-1zM696,375h1v2h-1zM697,374h2v1h-2zM699,373h2v1h-2zM701,372h3v1h-3zM704,371h3v1h-3zM707,370h2v1h-2zM709,369h2v1h-2zM711,370h3v1h-3zM714,371h2v1h-2zM716,372h2v1h-2zM718,373h1v1h-1zM719,374h2v1h-2zM721,375h1v1h-1zM722,376h1v1h-1zM723,377h2v1h-2zM725,378h1v1h-1zM726,379h1v1h-1zM727,380h1v1h-1zM728,381h1v1h-1zM729,382h1v1h-1zM730,383h1v1h-1zM731,384h1v1h-1zM732,385h1v1h-1zM733,386h1v1h-1zM734,387h1v1h-1zM735,388h1v1h-1zM736,389h1v1h-1zM737,390h1v1h-1zM738,391h1v1h-1zM739,392h2v1h-2zM741,393h1v1h-1zM742,394h1v1h-1zM743,395h2v1h-2zM745,396h1v1h-1zM746,397h2v1h-2zM748,398h3v1h-3zM751,399h5v1h-5zM756,398h3v1h-3zM759,397h2v1h-2zM761,396h1v1h-1zM762,395h1v1h-1zM763,394h1v1h-1zM764,393h1v1h-1zM765,392h1v1h-1zM766,390h1v2h-1zM767,389h1v1h-1zM768,387h1v2h-1zM769,386h1v1h-1zM770,385h1v1h-1zM771,384h1v1h-1zM772,383h1v1h-1zM773,382h1v1h-1zM774,380h1v2h-1zM775,378h1v2h-1zM776,376h1v2h-1zM777,374h1v2h-1zM778,372h1v2h-1zM779,370h1v2h-1zM780,368h1v2h-1zM781,366h1v2h-1zM782,364h1v2h-1zM783,362h1v2h-1zM784,360h1v2h-1zM785,358h1v2h-1zM786,357h1v1h-1zM787,355h1v2h-1zM788,354h1v1h-1zM789,353h1v1h-1zM790,352h2v1h-2zM792,351h1v1h-1zM793,350h1v1h-1zM794,349h2v1h-2zM796,348h1v1h-1zM797,347h6v1h-6zM803,348h5v1h-5zM808,347h4v1h-4zM812,346h4v1h-4zM816,345h4v1h-4zM820,344h6v1h-6zM826,343h2v1h-2zM828,342h1v1h-1zM829,341h1v1h-1zM830,340h2v1h-2zM832,339h1v1h-1zM833,338h6v1h-6zM839,337h2v1h-2zM841,336h1v1h-1zM842,335h1v1h-1zM843,334h1v1h-1zM844,333h1v1h-1zM845,332h3v1h-3zM848,331h7v1h-7zM855,330h2v1h-2zM857,329h1v1h-1zM858,330h1v1h-1zM859,331h2v1h-2zM861,332h1v1h-1zM862,333h1v1h-1zM863,334h1v1h-1zM864,335h1v1h-1zM865,336h1v1h-1zM866,337h1v1h-1zM867,338h1v2h-1zM868,340h1v1h-1zM869,341h1v1h-1zM870,342h1v2h-1zM871,344h1v2h-1zM872,346h1v2h-1zM873,348h1v2h-1zM874,350h1v2h-1zM875,352h1v2h-1zM876,354h1v2h-1zM877,356h1v2h-1zM878,358h1v2h-1zM879,360h1v2h-1zM880,362h1v2h-1zM881,364h1v3h-1zM882,367h1v3h-1zM883,370h1v3h-1zM884,373h1v3h-1zM885,376h1v3h-1zM886,379h1v3h-1zM887,382h1v3h-1zM888,385h1v3h-1zM889,388h1v3h-1zM890,391h1v4h-1zM891,395h1v3h-1zM892,398h1v4h-1zM893,402h1v3h-1zM894,405h1v4h-1zM895,409h1v3h-1zM896,412h1v4h-1zM897,416h1v3h-1zM898,419h1v4h-1zM899,423h1v4h-1zM900,427h1v4h-1zM901,431h1v3h-1zM902,434h1v2h-1zM903,436h1v3h-1zM904,439h1v2h-1zM905,441h1v3h-1zM906,444h1v2h-1zM907,446h1v2h-1zM908,448h1v2h-1zM909,450h1v3h-1zM910,453h1v2h-1zM911,455h1v2h-1zM912,457h1v2h-1zM913,459h1v2h-1zM914,461h1v2h-1zM915,463h1v2h-1zM916,465h1v2h-1zM917,467h1v2h-1zM918,469h1v1h-1zM919,470h1v2h-1zM920,472h1v1h-1zM921,473h1v2h-1zM922,475h1v2h-1zM923,477h1v2h-1zM924,479h1v2h-1zM925,481h1v2h-1zM926,483h1v1h-1zM927,484h1v1h-1zM928,485h1v1h-1zM929,486h1v1h-1zM930,487h1v2h-1zM931,489h1v1h-1zM932,490h1v2h-1zM933,492h1v1h-1zM934,493h1v1h-1zM935,494h1v1h-1zM936,495h1v1h-1zM937,496h1v1h-1zM938,497h2v1h-2zM940,498h18v1h-18zM958,499h1v1h-1zM959,500h2v1h-2zM961,501h2v1h-2zM963,502h3v1h-3zM966,503h2v1h-2zM968,504h6v1h-6zM974,505h1v1h-1zM975,506h1v1h-1zM976,507h1v1h-1zM977,508h5v1h-5zM982,509h1v1h-1zM983,510h2v1h-2zM985,511h1v1h-1zM986,512h1v1h-1zM987,513h1v1h-1zM988,514h1v1h-1zM989,515h2v1h-2zM991,516h5v1h-5zM996,515h2v1h-2zM998,514h2v1h-2zM1000,513h1v1h-1zM1001,512h1v1h-1zM1002,511h2v1h-2zM1004,510h1v1h-1zM1005,509h1v1h-1zM1006,508h1v1h-1zM1007,507h1v1h-1zM1008,506h1v1h-1zM1009,505h1v1h-1zM1010,503h1v2h-1zM1011,501h1v2h-1zM1012,499h1v2h-1zM1013,498h1v1h-1zM1014,496h1v2h-1zM1015,495h1v1h-1zM1016,493h1v2h-1zM1017,492h1v1h-1zM1018,491h1v1h-1zM1019,490h1v1h-1zM1020,489h1v1h-1zM1021,488h1v1h-1zM1022,486h1v2h-1zM1023,485h1v1h-1zM1024,483h1v2h-1zM1025,482h1v1h-1zM1026,480h1v2h-1zM1027,478h1v2h-1zM1028,476h1v2h-1zM1029,475h1v1h-1zM1030,473h1v2h-1zM1031,471h1v2h-1zM1032,469h1v2h-1zM1033,467h1v2h-1zM1034,465h1v2h-1zM1035,463h1v2h-1zM1036,461h1v2h-1zM1037,460h1v1h-1zM1038,458h1v2h-1zM1039,457h1v1h-1zM1040,455h1v2h-1zM1041,454h1v1h-1zM1042,452h1v2h-1zM1043,450h1v2h-1zM1044,448h1v2h-1zM1045,447h2v1h-2zM1047,446h2v1h-2zM1049,445h2v1h-2zM1051,446h3v1h-3zM1054,447h1v1h-1zM1055,448h2v1h-2zM1057,449h1v1h-1zM1058,450h1v1h-1zM1059,451h1v2h-1zM1060,453h1v1h-1zM1061,454h1v1h-1zM1062,455h1v1h-1zM1063,456h2v1h-2zM1065,457h1v1h-1zM1066,458h1v2h-1zM1067,460h1v1h-1zM1068,461h1v2h-1zM1069,463h1v1h-1zM1070,464h1v2h-1zM1071,466h1v1h-1zM1072,467h1v2h-1zM1073,469h1v1h-1zM1074,470h1v1h-1zM1075,471h1v2h-1zM1076,473h1v1h-1zM1077,474h1v1h-1zM1078,475h1v2h-1zM1079,477h1v1h-1zM1080,478h1v2h-1zM1081,480h1v1h-1zM1082,481h1v2h-1zM1083,483h1v2h-1zM1084,485h1v2h-1zM1085,487h1v2h-1zM1086,489h1v2h-1zM1087,491h1v3h-1zM1088,494h1v2h-1zM1089,496h1v2h-1zM1090,498h1v2h-1zM1091,500h1v2h-1zM1092,502h1v2h-1zM1093,504h1v2h-1zM1094,506h1v2h-1zM1095,508h1v1h-1zM1096,509h1v2h-1zM1097,511h1v1h-1zM1098,512h1v1h-1zM1099,513h1v1h-1zM1100,514h1v1h-1zM1101,515h2v1h-2zM1103,516h4v1h-4zM1107,517h3v1h-3zM1110,518h2v1h-2zM1112,519h2v1h-2zM1114,520h2v1h-2zM1116,521h2v1h-2zM1118,522h2v1h-2zM1120,523h2v1h-2zM1122,522h2v1h-2zM1124,521h1v1h-1zM1125,520h1v1h-1zM1126,519h2v1h-2zM1128,518h1v1h-1zM1129,517h13v1h-13zM1142,515h1v2h-1zM1143,513h1v2h-1zM1144,511h1v2h-1zM1145,510h1v1h-1zM1146,508h1v2h-1zM1147,506h1v2h-1zM1148,504h1v2h-1zM1149,503h1v1h-1zM1150,501h1v2h-1zM1151,500h1v1h-1zM1152,498h1v2h-1zM1153,497h1v1h-1zM1154,496h1v1h-1zM1155,494h1v2h-1zM1156,493h1v1h-1zM1157,492h1v1h-1zM1158,491h1v1h-1zM1159,489h1v2h-1zM1160,488h1v1h-1zM1161,487h1v1h-1zM1162,486h1v1h-1zM1163,484h1v2h-1zM1164,483h1v1h-1zM1165,482h1v1h-1zM1166,481h1v1h-1zM1167,479h1v2h-1zM1168,478h1v1h-1zM1169,477h1v1h-1zM1170,476h1v1h-1zM1171,474h1v2h-1zM1172,473h1v1h-1zM1173,472h2v1h-2zM1175,471h2v1h-2zM1177,470h2v1h-2zM1179,469h2v1h-2zM1181,468h1v1h-1zM1182,467h2v1h-2zM1184,466h1v1h-1zM1185,465h1v1h-1zM1186,463h1v2h-1zM1187,462h1v1h-1zM1188,460h1v2h-1zM1189,459h1v1h-1zM1190,457h1v2h-1zM1191,455h1v2h-1zM1192,453h1v2h-1zM1193,452h1v1h-1zM1194,450h1v2h-1zM1195,448h1v2h-1zM1196,446h1v2h-1zM1197,444h1v2h-1zM1198,443h1v1h-1zM1199,442h1v1h-1zM1200,441h1v1h-1zM1201,440h1v1h-1zM1202,439h2v1h-2zM1204,438h1v1h-1zM1205,437h2v1h-2zM1207,436h2v1h-2zM1209,435h3v1h-3zM1212,434h3v1h-3zM1215,433h2v1h-2zM1217,432h6v1h-6zM1223,431h2v1h-2zM1225,430h3v1h-3zM1228,429h4v1h-4zM1232,428h6v1h-6zM1238,429h1v1h-1zM1239,430h1v2h-1zM1240,432h1v1h-1zM1241,433h1v1h-1zM1242,434h1v1h-1zM1243,435h2v1h-2zM1245,436h1v1h-1zM1246,437h1v1h-1zM1247,438h2v1h-2zM1249,439h1v1h-1zM1250,440h1v1h-1zM1251,441h1v2h-1zM1252,443h1v1h-1zM1253,444h1v1h-1zM1254,445h1v1h-1zM1255,446h1v2h-1zM1256,448h1v1h-1zM1257,449h1v1h-1zM1258,450h1v1h-1zM1259,451h1v2h-1zM1260,453h1v1h-1zM1261,454h1v1h-1zM1262,455h1v1h-1zM1263,456h1v2h-1zM1264,458h1v1h-1zM1265,459h1v1h-1zM1266,460h1v2h-1zM1267,462h1v1h-1zM1268,463h1v2h-1zM1269,465h1v1h-1zM1270,466h1v1h-1zM1271,467h1v2h-1zM1272,469h1v1h-1zM1273,470h1v1h-1zM1274,471h1v1h-1zM1275,472h1v1h-1zM1276,473h1v1h-1zM1277,474h1v1h-1zM1278,475h1v1h-1zM1279,476h1v1h-1zM1280,477h1v1h-1zM1281,478h1v1h-1zM1282,479h1v1h-1zM1283,480h2v1h-2zM1285,481h1v1h-1zM1286,482h1v1h-1zM1287,483h1v1h-1zM1288,484h1v1h-1zM1289,485h1v1h-1zM1290,486h1v1h-1zM1291,487h1v1h-1zM1292,488h1v1h-1zM1293,489h2v1h-2zM1295,490h8v1h-8zM1303,489h2v1h-2zM1305,488h3v1h-3zM1308,487h7v1h-7zM1315,486h2v1h-2zM1317,485h2v1h-2zM1319,484h2v1h-2zM1321,483h2v1h-2zM1323,482h2v1h-2zM1325,481h2v1h-2zM1327,480h2v1h-2zM1329,479h1v1h-1zM1330,478h1v1h-1zM1331,477h1v1h-1zM1332,476h1v1h-1zM1333,475h1v1h-1zM1334,473h1v2h-1zM1335,472h1v1h-1zM1336,470h1v2h-1zM1337,469h1v1h-1zM1338,467h1v2h-1zM1339,465h1v2h-1zM1340,463h1v2h-1zM1341,462h1v1h-1z"/><path fill="#ffa500" d="M5,130h1v1h-1zM6,129h1v1h-1zM7,127h1v2h-1zM8,126h1v1h-1zM9,125h5v1h-5zM14,126h1v2h-1zM15,128h1v2h-1zM16,130h1v2h-1zM17,132h1v4h-1zM18,136h1v4h-1zM19,140h1v4h-1zM20,144h1v4h-1zM21,148h1v4h-1zM22,152h1v2h-1zM23,154h1v3h-1zM24,157h1v2h-1zM25,159h1v2h-1zM26,161h1v1h-1zM27,162h2v1h-2zM29,163h1v1h-1zM30,164h1v2h-1zM31,166h1v1h-1zM32,167h1v2h-1zM33,169h1v1h-1zM34,170h1v1h-1zM35,171h1v1h-1zM36,172h2v1h-2zM37,173h1v1h-1zM38,169h1v3h-1zM39,165h1v4h-1zM40,162h1v3h-1zM41,159h1v3h-1zM42,156h1v3h-1zM43,154h1v2h-1zM44,151h1v3h-1zM45,148h1v3h-1zM46,146h1v2h-1zM47,143h1v3h-1zM48,141h1v2h-1zM49,137h1v4h-1zM50,132h1v5h-1zM51,128h1v4h-1zM52,123h1v5h-1zM53,118h1v5h-1zM54,113h1v5h-1zM55,109h1v4h-1zM56,104h1v5h-1zM57,101h1v3h-1zM58,102h1v2h-1zM59,104h1v1h-1zM60,105h1v2h-1zM61,107h1v2h-1zM62,109h1v4h-1zM63,113h1v3h-1zM64,116h1v4h-1zM65,120h1v3h-1zM66,123h1v3h-1zM67,126h1v3h-1zM68,129h1v3h-1zM69,132h1v4h-1zM70,136h1v5h-1zM71,141h1v6h-1zM72,147h1v5h-1zM73,152h1v6h-1zM74,158h1v6h-1zM75,164h1v6h-1zM76,170h1v6h-1zM77,176h1v5h-1zM78,181h1v2h-1zM79,183h1v2h-1zM80,185h1v2h-1zM81,187h1v2h-1zM82,188h1v1h-1zM83,187h2v1h-2zM85,186h3v1h-3zM88,185h2v1h-2zM90,186h1v1h-1zM91,187h1v2h-1zM92,189h1v1h-1zM93,190h2v1h-2zM95,191h3v1h-3zM98,192h1v1h-1zM99,193h2v1h-2zM101,194h1v1h-1zM102,195h1v2h-1zM103,197h1v2h-1zM104,199h1v2h-1zM105,201h1v2h-1zM106,203h1v2h-1zM107,205h1v2h-1zM108,207h1v2h-1zM109,209h1v2h-1zM110,211h1v2h-1zM111,213h1v2h-1zM112,215h1v2h-1zM113,217h1v3h-1zM114,220h1v4h-1zM115,224h1v4h-1zM116,228h1v4h-1zM117,232h1v4h-1zM118,236h1v5h-1zM119,241h1v5h-1zM120,246h1v5h-1zM121,251h1v5h-1zM122,256h1v4h-1zM123,260h1v4h-1zM124,264h1v4h-1zM125,268h1v5h-1zM126,273h1v5h-1zM127,278h1v6h-1zM128,284h1v5h-1zM129,289h1v3h-1zM130,292h1v2h-1zM131,294h1v2h-1zM132,296h1v2h-1zM133,298h1v2h-1zM134,300h1v2h-1zM135,302h1v2h-1zM136,304h1v2h-1zM137,306h2v1h-2zM139,307h4v1h-4zM143,308h5v1h-5zM148,307h2v1h-2zM150,308h2v1h-2zM152,309h2v1h-2zM154,310h1v1h-1zM155,311h1v1h-1zM156,312h1v1h-1zM157,313h1v1h-1zM158,314h1v2h-1zM159,316h1v2h-1zM160,318h1v2h-1zM161,319h1v2h-1zM162,317h1v2h-1zM163,315h1v2h-1zM164,313h1v2h-1zM165,310h1v3h-1zM166,307h1v3h-1zM167,305h1v2h-1zM168,302h1v3h-1zM169,299h1v3h-1zM170,295h1v4h-1zM171,292h1v3h-1zM172,288h1v4h-1zM173,284h1v4h-1zM174,279h1v5h-1zM175,275h1v4h-1zM176,270h1v5h-1zM177,264h1v6h-1zM178,258h1v6h-1zM179,252h1v6h-1zM180,246h1v6h-1zM181,241h1v5h-1zM182,238h1v3h-1zM183,235h1v3h-1zM184,232h1v3h-1zM185,229h1v3h-1zM186,226h1v3h-1zM187,222h1v4h-1zM188,219h1v3h-1zM189,216h1v3h-1zM190,214h1v2h-1zM191,211h1v3h-1zM192,209h1v2h-1zM193,206h1v3h-1zM194,203h1v3h-1zM195,201h1v2h-1zM196,198h1v3h-1zM197,196h1v2h-1zM198,195h1v1h-1zM199,193h1v2h-1zM200,192h1v1h-1zM201,191h1v1h-1zM202,192h2v1h-2zM204,193h2v1h-2zM206,194h1v2h-1zM207,196h1v1h-1zM208,197h1v2h-1zM209,199h1v1h-1zM210,200h1v1h-1zM211,201h2v1h-2zM213,202h1v1h-1zM214,203h1v2h-1zM215,205h1v1h-1zM216,206h1v2h-1zM217,208h1v1h-1zM218,209h1v2h-1zM219,211h1v2h-1zM220,213h1v2h-1zM221,215h1v1h-1zM222,216h1v2h-1zM223,218h1v1h-1zM224,219h1v2h-1zM225,221h1v1h-1zM226,222h1v1h-1zM227,223h1v1h-1zM228,224h1v1h-1zM229,225h1v2h-1zM230,227h1v3h-1zM231,230h1v3h-1zM232,233h1v3h-1zM233,236h1v2h-1zM234,237h4v1h-4zM238,236h1v1h-1zM239,235h1v1h-1zM240,234h1v1h-1zM241,233h1v1h-1zM242,232h1v1h-1zM243,230h1v2h-1zM244,229h1v1h-1zM245,228h2v1h-2zM247,227h2v1h-2zM249,225h1v2h-1zM250,222h1v3h-1zM251,218h1v4h-1zM252,215h1v3h-1zM253,211h1v4h-1zM254,207h1v4h-1zM255,202h1v5h-1zM256,198h1v4h-1zM257,194h1v4h-1zM258,191h1v3h-1zM259,188h1v3h-1zM260,185h1v3h-1zM261,182h1v3h-1zM262,179h1v3h-1zM263,177h1v2h-1zM264,174h1v3h-1zM265,171h1v3h-1zM266,169h1v2h-1zM267,166h1v3h-1zM268,164h1v2h-1zM269,162h1v2h-1zM270,160h1v2h-1zM271,158h1v2h-1zM272,156h1v2h-1zM273,155h1v3h-1zM274,158h1v6h-1zM275,164h1v6h-1zM276,170h1v6h-1zM277,176h1v5h-1zM278,181h1v6h-1zM279,187h1v5h-1zM280,192h1v6h-1zM281,198h1v5h-1zM282,203h1v6h-1zM283,209h1v6h-1zM284,215h1v6h-1zM285,221h1v5h-1zM286,226h1v5h-1zM287,231h1v5h-1zM288,236h1v5h-1zM289,241h1v5h-1zM290,246h1v6h-1zM291,252h1v6h-1zM292,258h1v6h-1zM293,264h1v4h-1zM294,268h1v2h-1zM295,270h1v2h-1zM296,272h1v2h-1zM297,274h3v1h-3zM300,273h4v1h-4zM304,272h2v1h-2zM306,271h1v1h-1zM307,269h1v2h-1zM308,268h1v1h-1zM309,266h1v2h-1zM310,263h1v3h-1zM311,261h1v2h-1zM312,258h1v3h-1zM313,256h1v2h-1zM314,254h1v2h-1zM315,252h1v2h-1zM316,250h1v2h-1zM317,249h1v1h-1zM318,248h1v1h-1zM319,247h1v1h-1zM320,246h1v1h-1zM321,244h1v2h-1zM322,242h1v2h-1zM323,239h1v3h-1zM324,237h1v2h-1zM325,235h1v2h-1zM326,236h1v1h-1zM327,237h1v1h-1zM328,238h1v1h-1zM329,239h2v1h-2zM331,240h7v1h-7zM338,239h1v1h-1zM339,237h1v2h-1zM340,236h1v1h-1zM341,235h3v1h-3zM344,234h2v1h-2zM346,232h1v2h-1zM347,230h1v2h-1zM348,228h1v2h-1zM349,227h1v1h-1zM350,228h1v1h-1zM351,229h2v1h-2zM353,230h1v1h-1zM354,231h1v2h-1zM355,233h1v1h-1zM356,234h1v2h-1zM357,236h1v2h-1zM358,238h1v4h-1zM359,242h1v3h-1zM360,245h1v4h-1zM361,249h1v3h-1zM362,252h1v4h-1zM363,256h1v3h-1zM364,259h1v4h-1zM365,263h1v3h-1zM366,266h1v2h-1zM367,268h1v3h-1zM368,271h1v2h-1zM369,273h1v3h-1zM370,276h1v3h-1zM371,279h1v4h-1zM372,283h1v3h-1zM373,286h1v3h-1zM374,289h1v2h-1zM375,291h1v2h-1zM376,293h1v2h-1zM377,295h1v2h-1zM378,297h1v1h-1zM379,298h1v2h-1zM380,300h1v1h-1zM381,301h1v1h-1zM382,302h1v1h-1zM383,303h1v2h-1zM384,305h1v1h-1zM385,306h1v1h-1zM386,307h2v1h-2zM388,308h2v1h-2zM389,307h1v1h-1zM390,305h1v2h-1zM391,303h1v2h-1zM392,301h1v2h-1zM393,299h1v2h-1zM394,297h1v2h-1zM395,295h1v2h-1zM396,293h1v2h-1zM397,291h1v2h-1zM398,290h2v1h-2zM400,289h1v1h-1zM401,288h1v1h-1zM402,286h1v2h-1zM403,285h1v1h-1zM404,283h1v2h-1zM405,282h1v1h-1zM406,281h1v1h-1zM407,280h1v1h-1zM408,279h1v1h-1zM409,278h2v1h-2zM411,277h2v1h-2zM413,276h2v1h-2zM415,275h2v1h-2zM417,274h1v1h-1zM418,273h1v1h-1zM419,272h1v1h-1zM420,271h1v1h-1zM421,270h1v1h-1zM422,269h1v1h-1zM423,268h1v1h-1zM424,267h1v1h-1zM425,266h5v1h-5zM430,267h2v1h-2zM432,268h4v1h-4zM436,267h2v1h-2zM438,265h1v2h-1zM439,263h1v2h-1zM440,261h1v2h-1zM441,259h1v2h-1zM442,260h1v2h-1zM443,262h1v1h-1zM444,263h1v2h-1zM445,265h1v1h-1zM446,266h2v1h-2zM448,267h2v1h-2zM450,266h1v1h-1zM451,265h1v1h-1zM452,264h1v1h-1zM453,263h1v1h-1zM454,264h1v1h-1zM455,265h2v1h-2zM457,266h1v1h-1zM458,267h1v1h-1zM459,268h2v1h-2zM461,269h1v1h-1zM462,270h2v1h-2zM464,271h2v1h-2zM466,269h1v2h-1zM467,267h1v2h-1zM468,265h1v2h-1zM469,264h3v1h-3zM472,263h6v1h-6zM478,264h2v1h-2zM480,265h2v1h-2zM481,264h1v1h-1zM482,262h1v2h-1zM483,259h1v3h-1zM484,257h1v2h-1zM485,255h1v2h-1zM486,255h4v1h-4zM490,253h1v2h-1zM491,251h1v2h-1zM492,249h1v2h-1zM493,248h1v1h-1zM494,247h1v1h-1zM495,246h1v1h-1zM496,245h1v1h-1zM497,243h1v2h-1zM498,240h1v3h-1zM499,238h1v2h-1zM500,235h1v3h-1zM501,233h1v2h-1zM502,231h1v2h-1zM503,229h1v2h-1zM504,227h1v2h-1zM505,226h1v1h-1zM506,224h1v2h-1zM507,222h1v2h-1zM508,220h1v2h-1zM509,219h2v1h-2zM511,218h2v1h-2zM513,217h1v1h-1zM514,215h1v2h-1zM515,214h1v1h-1zM516,212h1v2h-1zM517,211h1v1h-1zM518,212h1v1h-1zM519,213h1v1h-1zM520,214h1v1h-1zM521,215h1v1h-1zM522,216h1v1h-1zM523,217h1v1h-1zM524,218h1v1h-1zM525,219h1v1h-1zM526,220h1v1h-1zM527,221h1v1h-1zM528,222h1v1h-1zM529,223h1v1h-1zM530,224h1v2h-1zM531,226h1v1h-1zM532,227h1v2h-1zM533,229h1v2h-1zM534,231h1v3h-1zM535,234h1v2h-1zM536,236h1v3h-1zM537,239h1v4h-1zM538,243h1v4h-1zM539,247h1v4h-1zM540,251h1v4h-1zM541,255h1v5h-1zM542,260h1v5h-1zM543,265h1v5h-1zM544,270h1v5h-1zM545,275h1v4h-1zM546,279h1v4h-1zM547,283h1v4h-1zM548,287h1v4h-1zM549,291h1v4h-1zM550,295h1v3h-1zM551,298h1v4h-1zM552,302h1v3h-1zM553,305h1v2h-1zM554,307h1v2h-1zM555,309h1v1h-1zM556,310h1v2h-1zM557,312h2v1h-2zM559,311h2v1h-2zM561,310h1v1h-1zM562,309h1v1h-1zM563,308h1v1h-1zM564,307h1v1h-1zM565,306h1v1h-1zM566,307h1v2h-1zM567,309h1v1h-1zM568,310h1v2h-1zM569,312h1v1h-1zM570,313h1v1h-1zM571,314h2v1h-2zM573,315h1v1h-1zM574,316h1v2h-1zM575,318h1v1h-1zM576,319h1v2h-1zM577,321h1v1h-1zM578,322h1v2h-1zM579,324h1v2h-1zM580,326h1v2h-1zM581,328h1v1h-1zM582,329h1v1h-1zM583,330h1v1h-1zM584,331h1v1h-1zM585,332h5v1h-5zM590,333h1v2h-1zM591,335h1v1h-1zM592,336h1v2h-1zM593,338h1v1h-1zM594,339h1v1h-1zM595,340h2v1h-2zM597,341h3v1h-3zM600,340h2v1h-2zM602,341h1v2h-1zM603,343h1v2h-1zM604,345h1v2h-1zM605,347h1v3h-1zM606,350h1v2h-1zM607,352h1v2h-1zM608,354h1v2h-1zM609,356h1v2h-1zM610,358h1v2h-1zM611,360h1v2h-1zM612,362h1v2h-1zM613,364h1v2h-1zM614,366h1v3h-1zM615,369h1v4h-1zM616,373h1v3h-1zM617,376h1v4h-1zM618,380h1v5h-1zM619,385h1v4h-1zM620,389h1v5h-1zM621,394h1v4h-1zM622,398h1v3h-1zM623,401h1v3h-1zM624,404h1v3h-1zM625,407h1v2h-1zM626,409h1v1h-1zM627,410h1v1h-1zM628,411h1v1h-1zM629,412h1v1h-1zM630,413h1v2h-1zM631,415h1v2h-1zM632,417h1v2h-1zM633,419h1v2h-1zM634,421h1v1h-1zM635,422h2v1h-2zM637,423h1v1h-1zM638,422h2v1h-2zM640,421h1v1h-1zM641,420h1v1h-1zM642,418h1v2h-1zM643,416h1v2h-1zM644,414h1v2h-1zM645,413h1v1h-1zM646,412h2v1h-2zM648,411h1v1h-1zM649,410h1v1h-1zM650,409h1v1h-1zM651,407h1v2h-1zM652,406h1v1h-1zM653,405h1v1h-1zM654,403h1v2h-1zM655,401h1v2h-1zM656,399h1v2h-1zM657,397h1v2h-1zM658,397h1v1h-1zM659,396h2v1h-2zM661,395h2v1h-2zM663,396h7v1h-7zM670,395h2v1h-2zM672,394h1v1h-1zM673,393h1v1h-1zM674,392h1v1h-1zM675,391h1v1h-1zM676,390h1v1h-1zM677,388h1v2h-1zM678,385h1v3h-1zM679,383h1v2h-1zM680,380h1v3h-1zM681,377h1v3h-1zM682,375h1v2h-1zM683,372h1v3h-1zM684,370h1v2h-1zM685,368h1v2h-1zM686,366h1v2h-1zM687,364h1v2h-1zM688,362h1v2h-1zM689,359h1v3h-1zM690,357h1v2h-1zM691,355h1v2h-1zM692,353h1v2h-1zM693,351h1v2h-1zM694,349h1v2h-1zM695,347h1v2h-1zM696,345h1v2h-1zM697,344h1v1h-1zM698,345h1v1h-1zM699,346h1v1h-1zM700,347h1v1h-1zM701,348h1v1h-1zM702,349h2v1h-2zM704,350h2v1h-2zM706,351h1v2h-1zM707,353h1v2h-1zM708,355h1v2h-1zM709,357h1v2h-1zM710,359h1v3h-1zM711,362h1v4h-1zM712,366h1v3h-1zM713,369h1v4h-1zM714,373h1v5h-1zM715,378h1v5h-1zM716,383h1v5h-1zM717,388h1v4h-1zM718,392h1v4h-1zM719,396h1v3h-1zM720,399h1v4h-1zM721,403h1v3h-1zM722,406h1v4h-1zM723,410h1v3h-1zM724,413h1v4h-1zM725,417h1v3h-1zM726,420h1v2h-1zM727,422h1v3h-1zM728,425h1v2h-1zM729,427h1v2h-1zM730,429h1v2h-1zM731,431h1v1h-1zM732,432h1v2h-1zM733,434h1v1h-1zM734,432h1v2h-1zM735,430h1v2h-1zM736,428h1v2h-1zM737,427h1v1h-1zM738,425h1v2h-1zM739,423h1v2h-1zM740,421h1v2h-1zM741,418h1v3h-1zM742,416h1v2h-1zM743,413h1v3h-1zM744,411h1v2h-1zM745,408h1v3h-1zM746,405h1v3h-1zM747,401h1v4h-1zM748,398h1v3h-1zM749,395h1v3h-1zM750,391h1v4h-1zM751,387h1v4h-1zM752,383h1v4h-1zM753,379h1v4h-1zM754,377h1v2h-1zM755,374h1v3h-1zM756,372h1v2h-1zM757,369h1v3h-1zM758,366h1v3h-1zM759,363h1v3h-1zM760,360h1v3h-1zM761,357h1v3h-1zM762,354h1v3h-1zM763,352h1v2h-1zM764,349h1v3h-1zM765,346h1v3h-1zM766,344h1v2h-1zM767,342h1v2h-1zM768,340h1v2h-1zM769,339h3v1h-3zM769,338h1v1h-1zM772,340h6v1h-6zM778,339h1v1h-1zM779,337h1v2h-1zM780,336h1v1h-1zM781,335h2v1h-2zM783,334h2v1h-2zM785,333h1v1h-1zM786,334h1v2h-1zM787,336h1v2h-1zM788,338h1v2h-1zM789,340h3v1h-3zM789,341h1v1h-1zM792,339h1v1h-1zM793,338h1v1h-1zM794,339h1v1h-1zM795,340h1v1h-1zM796,341h1v1h-1zM797,342h1v2h-1zM798,344h1v4h-1zM799,348h1v4h-1zM800,352h1v4h-1zM801,356h1v3h-1zM802,359h1v2h-1zM803,361h1v2h-1zM804,363h1v2h-1zM805,365h1v2h-1zM806,366h1v1h-1zM807,365h2v1h-2zM809,364h1v1h-1zM810,363h1v1h-1zM811,362h1v1h-1zM812,361h1v1h-1zM813,360h1v1h-1zM814,358h1v2h-1zM815,356h1v2h-1zM816,354h1v2h-1zM817,351h1v3h-1zM818,347h1v4h-1zM819,343h1v4h-1zM820,339h1v4h-1zM821,335h1v4h-1zM822,333h1v2h-1zM823,331h1v2h-1zM824,329h1v2h-1zM825,327h1v2h-1zM826,326h1v1h-1zM827,324h1v2h-1zM828,323h1v1h-1zM829,322h1v1h-1zM830,320h1v2h-1zM831,319h1v1h-1zM832,317h1v2h-1zM833,316h2v1h-2zM835,315h2v1h-2zM837,314h3v1h-3zM840,313h2v1h-2zM842,312h2v1h-2zM844,311h1v1h-1zM845,310h1v1h-1zM846,311h1v1h-1zM847,312h2v1h-2zM849,313h1v2h-1zM850,315h1v2h-1zM851,317h1v2h-1zM852,319h1v2h-1zM853,321h1v3h-1zM854,324h1v3h-1zM855,327h1v4h-1zM856,331h1v3h-1zM857,334h1v4h-1zM858,338h1v5h-1zM859,343h1v5h-1zM860,348h1v5h-1zM861,353h1v5h-1zM862,358h1v5h-1zM863,363h1v5h-1zM864,368h1v5h-1zM865,373h1v4h-1zM866,377h1v3h-1zM867,380h1v4h-1zM868,384h1v3h-1zM869,387h1v3h-1zM870,390h1v4h-1zM871,394h1v4h-1zM872,398h1v4h-1zM873,402h1v3h-1zM874,405h1v2h-1zM875,407h1v3h-1zM876,410h1v2h-1zM877,412h1v2h-1zM878,414h1v2h-1zM879,416h1v2h-1zM880,418h1v2h-1zM881,420h1v2h-1zM882,422h1v4h-1zM883,426h1v4h-1zM884,430h1v4h-1zM885,434h1v3h-1zM886,437h1v4h-1zM887,441h1v4h-1zM888,445h1v4h-1zM889,449h1v4h-1zM890,453h1v3h-1zM891,456h1v4h-1zM892,460h1v3h-1zM893,463h1v4h-1zM894,467h1v4h-1zM895,471h1v5h-1zM896,476h1v4h-1zM897,480h1v4h-1zM898,484h1v4h-1zM899,488h1v4h-1zM900,492h1v4h-1zM901,496h1v2h-1zM902,497h2v1h-2zM904,496h7v1h-7zM911,495h2v1h-2zM913,494h1v1h-1zM914,495h2v1h-2zM916,496h2v1h-2zM918,494h1v2h-1zM919,492h1v2h-1zM920,490h1v2h-1zM921,489h1v2h-1zM922,491h1v3h-1zM923,494h1v2h-1zM924,496h1v3h-1zM925,499h1v2h-1zM926,500h1v1h-1zM927,501h3v1h-3zM930,502h2v1h-2zM932,503h2v1h-2zM934,502h1v1h-1zM935,501h1v1h-1zM936,500h1v1h-1zM937,499h1v1h-1zM938,500h1v1h-1zM939,501h1v1h-1zM940,502h1v1h-1zM941,503h1v1h-1zM942,501h1v2h-1zM943,500h1v1h-1zM944,498h1v2h-1zM945,497h3v1h-3zM948,496h2v1h-2zM950,497h1v1h-1zM951,498h2v1h-2zM953,499h1v1h-1zM954,500h1v1h-1zM955,501h1v2h-1zM956,503h1v1h-1zM957,504h1v1h-1zM958,505h1v1h-1zM959,506h2v1h-2zM961,507h3v1h-3zM964,506h2v1h-2zM966,507h1v1h-1zM967,508h1v2h-1zM968,510h1v1h-1zM969,511h1v1h-1zM970,512h1v1h-1zM971,513h2v1h-2zM973,514h1v1h-1zM974,515h2v1h-2zM976,516h2v1h-2zM978,517h1v1h-1zM979,518h2v1h-2zM981,519h1v1h-1zM982,520h1v2h-1zM983,522h1v2h-1zM984,524h1v2h-1zM985,526h1v2h-1zM986,528h1v2h-1zM987,530h1v1h-1zM988,531h1v2h-1zM989,533h2v1h-2zM991,532h2v1h-2zM993,530h1v2h-1zM994,528h1v2h-1zM995,526h1v2h-1zM996,524h1v2h-1zM997,521h1v3h-1zM998,518h1v3h-1zM999,514h1v4h-1zM1000,511h1v3h-1zM1001,507h1v4h-1zM1002,502h1v5h-1zM1003,498h1v4h-1zM1004,493h1v5h-1zM1005,488h1v5h-1zM1006,483h1v5h-1zM1007,479h1v4h-1zM1008,474h1v5h-1zM1009,469h1v5h-1zM1010,465h1v4h-1zM1011,461h1v4h-1zM1012,457h1v4h-1zM1013,453h1v4h-1zM1014,450h1v3h-1zM1015,448h1v2h-1zM1016,445h1v3h-1zM1017,443h1v2h-1zM1018,442h1v1h-1zM1019,440h1v2h-1zM1020,439h1v1h-1zM1021,438h2v1h-2zM1023,437h2v1h-2zM1025,436h1v1h-1zM1026,434h1v2h-1zM1027,433h1v1h-1zM1028,431h1v2h-1zM1029,430h3v1h-3zM1032,429h3v1h-3zM1035,430h7v1h-7zM1042,431h1v1h-1zM1043,432h1v1h-1zM1044,433h1v1h-1zM1045,434h1v2h-1zM1046,436h1v4h-1zM1047,440h1v3h-1zM1048,443h1v4h-1zM1049,447h1v3h-1zM1050,450h1v4h-1zM1051,454h1v4h-1zM1052,458h1v4h-1zM1053,462h1v4h-1zM1054,466h1v4h-1zM1055,470h1v4h-1zM1056,474h1v4h-1zM1057,478h1v3h-1zM1058,481h1v3h-1zM1059,484h1v3h-1zM1060,487h1v3h-1zM1061,490h1v2h-1zM1062,492h1v2h-1zM1063,494h1v2h-1zM1064,496h1v2h-1zM1065,498h1v1h-1zM1066,499h1v2h-1zM1067,501h1v2h-1zM1068,503h1v2h-1zM1069,505h1v1h-1zM1070,506h2v1h-2zM1072,507h6v1h-6zM1078,508h2v1h-2zM1080,509h2v1h-2zM1082,510h1v2h-1zM1083,512h1v2h-1zM1084,514h1v2h-1zM1085,516h1v1h-1zM1086,517h1v2h-1zM1087,519h1v2h-1zM1088,521h1v2h-1zM1089,523h1v1h-1zM1090,524h1v2h-1zM1091,526h1v2h-1zM1092,528h1v2h-1zM1093,530h1v2h-1zM1094,532h2v1h-2zM1096,533h4v1h-4zM1100,532h2v1h-2zM1102,531h1v1h-1zM1103,530h1v1h-1zM1104,529h1v1h-1zM1105,528h1v1h-1zM1106,526h1v2h-1zM1107,525h1v1h-1zM1108,523h1v2h-1zM1109,522h1v1h-1zM1110,521h1v1h-1zM1111,520h1v1h-1zM1112,519h1v1h-1zM1113,518h1v1h-1zM1114,519h1v1h-1zM1115,520h2v1h-2zM1117,521h3v1h-3zM1120,520h2v1h-2zM1122,519h1v1h-1zM1123,517h1v2h-1zM1124,516h1v1h-1zM1125,515h1v1h-1zM1126,513h1v2h-1zM1127,511h1v2h-1zM1128,509h1v2h-1zM1129,507h1v2h-1zM1130,505h1v2h-1zM1131,504h1v1h-1zM1132,502h1v2h-1zM1133,501h1v1h-1zM1134,500h1v1h-1zM1135,499h1v1h-1zM1136,498h1v1h-1zM1137,497h1v1h-1zM1138,498h2v1h-2zM1140,499h2v1h-2zM1142,498h2v1h-2zM1144,497h1v1h-1zM1145,496h1v1h-1zM1146,494h1v2h-1zM1147,492h1v2h-1zM1148,490h1v2h-1zM1149,488h1v2h-1zM1150,485h1v3h-1zM1151,482h1v3h-1zM1152,479h1v3h-1zM1153,476h1v3h-1zM1154,472h1v4h-1zM1155,468h1v4h-1zM1156,464h1v4h-1zM1157,460h1v4h-1zM1158,456h1v4h-1zM1159,452h1v4h-1zM1160,448h1v4h-1zM1161,445h1v3h-1zM1162,444h2v1h-2zM1164,443h1v1h-1zM1165,442h1v1h-1zM1166,443h1v1h-1zM1167,444h1v2h-1zM1168,446h1v1h-1zM1169,447h1v1h-1zM1170,448h1v1h-1zM1171,449h2v1h-2zM1173,450h1v1h-1zM1174,451h1v2h-1zM1175,453h1v2h-1zM1176,455h1v2h-1zM1177,457h1v1h-1zM1178,458h1v1h-1zM1179,459h1v1h-1zM1180,460h1v1h-1zM1181,461h2v1h-2zM1183,460h2v1h-2zM1185,458h1v2h-1zM1186,456h1v2h-1zM1187,454h1v2h-1zM1188,452h1v2h-1zM1189,450h1v2h-1zM1190,448h1v2h-1zM1191,446h1v2h-1zM1192,444h1v2h-1zM1193,441h1v3h-1zM1194,437h1v4h-1zM1195,434h1v3h-1zM1196,430h1v4h-1zM1197,427h1v3h-1zM1198,425h1v2h-1zM1199,422h1v3h-1zM1200,420h1v2h-1zM1201,418h1v2h-1zM1202,416h1v2h-1zM1203,415h1v1h-1zM1204,413h1v2h-1zM1205,412h1v1h-1zM1206,411h2v1h-2zM1208,410h1v1h-1zM1209,409h5v1h-5zM1214,410h1v1h-1zM1215,411h1v1h-1zM1216,412h1v1h-1zM1217,413h1v1h-1zM1218,414h1v2h-1zM1219,416h1v1h-1zM1220,417h1v2h-1zM1221,419h1v1h-1zM1222,420h1v2h-1zM1223,422h1v2h-1zM1224,424h1v2h-1zM1225,426h1v2h-1zM1226,428h1v2h-1zM1227,430h1v1h-1zM1228,431h1v2h-1zM1229,433h1v1h-1zM1230,434h1v2h-1zM1231,436h1v2h-1zM1232,438h1v2h-1zM1233,440h1v2h-1zM1234,442h1v2h-1zM1235,444h1v2h-1zM1236,446h1v2h-1zM1237,448h1v3h-1zM1238,451h1v3h-1zM1239,454h1v3h-1zM1240,457h1v3h-1zM1241,460h1v2h-1zM1242,462h1v2h-1zM1243,464h1v1h-1zM1244,465h1v2h-1zM1245,467h1v1h-1zM1246,468h1v1h-1zM1247,469h1v2h-1zM1248,471h1v1h-1zM1249,472h1v1h-1zM1250,473h1v1h-1zM1251,474h2v1h-2zM1253,475h2v1h-2zM1255,476h3v1h-3zM1258,475h1v1h-1zM1259,474h1v1h-1zM1260,473h1v1h-1zM1261,472h1v1h-1zM1262,473h2v1h-2zM1264,474h2v1h-2zM1266,475h1v1h-1zM1267,476h1v2h-1zM1268,478h1v1h-1zM1269,479h1v1h-1zM1270,480h1v1h-1zM1271,481h1v2h-1zM1272,483h1v1h-1zM1273,484h1v1h-1zM1274,485h1v2h-1zM1275,487h1v2h-1zM1276,489h1v2h-1zM1277,491h1v2h-1zM1278,493h2v1h-2zM1280,494h2v1h-2zM1282,495h1v1h-1zM1283,496h2v1h-2zM1285,497h1v1h-1zM1286,498h2v1h-2zM1288,499h2v1h-2zM1290,500h1v1h-1zM1291,501h2v1h-2zM1293,502h1v1h-1zM1294,503h2v1h-2zM1296,504h2v1h-2zM1298,503h1v1h-1zM1299,501h1v2h-1zM1300,500h1v1h-1zM1301,499h1v1h-1zM1302,497h1v2h-1zM1303,495h1v2h-1zM1304,493h1v2h-1zM1305,490h1v3h-1zM1306,487h1v3h-1zM1307,483h1v4h-1zM1308,480h1v3h-1zM1309,477h1v3h-1zM1310,475h1v2h-1zM1311,473h1v2h-1zM1312,471h1v2h-1zM1313,468h1v3h-1zM1314,466h1v2h-1zM1315,463h1v3h-1zM1316,461h1v2h-1zM1317,459h1v2h-1zM1318,458h2v1h-2zM1320,457h1v1h-1zM1321,456h2v1h-2zM1323,457h3v1h-3zM1326,458h1v2h-1zM1327,460h1v2h-1zM1328,462h1v2h-1zM1329,464h1v1h-1zM1330,463h1v1h-1zM1331,462h1v1h-1zM1332,461h1v1h-1zM1333,459h1v2h-1zM1334,456h1v3h-1zM1335,454h1v2h-1zM1336,451h1v3h-1zM1337,448h1v3h-1zM1338,445h1v3h-1zM1339,441h1v4h-1zM1340,438h1v3h-1zM1341,436h1v2h-1z"/></g>
</g>
<g class="ce" id="hlines">
<rect x="5" y="335" width="1680" height="2" fill="#ff0000"/>
<rect x="5" y="408" width="1680" height="2" fill="#ff0000"/>
<rect x="5" y="480" width="1680" height="2" fill="#00ff00"/>
<rect x="5" y="574" width="1680" height="2" fill="#0000ff"/>
<rect x="4" y="406" width="6" height="6" fill="#ff0000"/><rect x="6" y="408" width="2" height="2" fill="#fff"/>
<rect x="1679" y="406" width="6" height="6" fill="#ff0000"/><rect x="1681" y="408" width="2" height="2" fill="#fff"/>
<rect x="4" y="478" width="6" height="6" fill="#00ff00"/><rect x="6" y="480" width="2" height="2" fill="#fff"/>
<rect x="1679" y="478" width="6" height="6" fill="#00ff00"/><rect x="1681" y="480" width="2" height="2" fill="#fff"/>
</g>
<g class="ce" id="frames">
<rect x="4" y="23" width="1" height="779" fill="#000"/>
<rect x="1685" y="23" width="1" height="568" fill="#000"/>
<rect x="1685" y="592" width="1" height="105" fill="#000"/>
<rect x="1685" y="698" width="1" height="104" fill="#000"/>
<rect x="4" y="23" width="1682" height="1" fill="#000"/>
<rect x="4" y="590" width="1682" height="1" fill="#000"/>
<rect x="4" y="592" width="1682" height="1" fill="#000"/>
<rect x="4" y="696" width="1682" height="1" fill="#000"/>
<rect x="4" y="698" width="1682" height="1" fill="#000"/>
<rect x="4" y="801" width="1682" height="1" fill="#000"/>
<rect x="1686" y="594" width="1" height="1" fill="#000"/>
<rect x="1686" y="695" width="1" height="1" fill="#000"/>
<rect x="1686" y="700" width="1" height="1" fill="#000"/>
<rect x="1686" y="800" width="1" height="1" fill="#000"/>
<rect x="1686" y="801" width="1" height="1" fill="#000"/>
</g>
<path d="M1343,24h9.4l-4.7,5.2z" fill="#c0c0c0"/>
<g id="title">
<path d="M7.8,30h7l-3.5,4z" fill="#000"/>
<text x="20.6" y="35.0" font-size="10.0" fill="#000" textLength="65.7" lengthAdjust="spacingAndGlyphs" stroke="#000" stroke-width="0.13">AUDUSD,Daily</text>
<text x="91.8" y="35.0" font-size="10.0" fill="#000" textLength="33.8" lengthAdjust="spacingAndGlyphs" stroke="#000" stroke-width="0.13">0.68993</text>
<text x="127.7" y="35.0" font-size="10.0" fill="#000" textLength="33.8" lengthAdjust="spacingAndGlyphs" stroke="#000" stroke-width="0.13">0.69378</text>
<text x="163.7" y="35.0" font-size="10.0" fill="#000" textLength="33.8" lengthAdjust="spacingAndGlyphs" stroke="#000" stroke-width="0.13">0.68859</text>
<text x="199.6" y="35.0" font-size="10.0" fill="#000" textLength="33.8" lengthAdjust="spacingAndGlyphs" stroke="#000" stroke-width="0.13">0.69240</text>
</g>
<g id="rsi">
<path class="ce" d="M6,624.5H1685M6,665.5H1685" stroke="#c0c0c0" stroke-width="1" stroke-dasharray="3,3" fill="none"/>
<g shape-rendering="crispEdges"><path fill="#1e90ff" d="M5,631h1v1h-1zM6,632h1v2h-1zM7,634h1v2h-1zM8,636h1v2h-1zM9,638h5v1h-5zM14,639h2v1h-2zM16,640h2v1h-2zM18,641h1v1h-1zM19,642h2v1h-2zM21,643h1v1h-1zM22,644h2v1h-2zM24,645h2v1h-2zM26,644h2v1h-2zM28,643h1v1h-1zM29,642h1v1h-1zM30,643h1v1h-1zM31,644h2v1h-2zM33,645h5v1h-5zM37,644h1v1h-1zM38,641h1v3h-1zM39,637h1v4h-1zM40,634h1v3h-1zM41,632h1v2h-1zM42,632h1v1h-1zM43,633h7v1h-7zM50,631h1v2h-1zM51,630h1v1h-1zM52,628h1v2h-1zM53,627h5v1h-5zM57,628h1v1h-1zM58,629h1v4h-1zM59,633h1v4h-1zM60,637h1v4h-1zM61,641h1v3h-1zM62,644h1v2h-1zM63,646h1v2h-1zM64,648h1v2h-1zM65,650h1v2h-1zM66,651h2v1h-2zM68,650h3v1h-3zM71,651h3v1h-3zM74,652h1v1h-1zM75,653h1v1h-1zM76,654h1v1h-1zM77,655h1v1h-1zM78,654h1v1h-1zM79,653h1v1h-1zM80,652h1v1h-1zM81,651h1v1h-1zM82,650h1v1h-1zM83,648h1v2h-1zM84,647h1v1h-1zM85,646h2v1h-2zM87,647h3v1h-3zM90,648h1v2h-1zM91,650h1v2h-1zM92,652h1v2h-1zM93,654h1v2h-1zM94,655h1v1h-1zM95,654h2v1h-2zM97,653h5v1h-5zM102,654h2v1h-2zM104,655h3v1h-3zM107,654h3v1h-3zM109,653h1v1h-1zM110,655h1v2h-1zM111,657h1v2h-1zM112,659h1v2h-1zM113,661h1v2h-1zM114,663h1v1h-1zM115,664h1v1h-1zM116,665h1v1h-1zM117,666h1v1h-1zM118,667h1v1h-1zM119,668h2v1h-2zM121,669h3v1h-3zM124,668h3v1h-3zM127,669h3v1h-3zM130,668h1v1h-1zM131,667h1v1h-1zM132,666h1v1h-1zM133,665h1v1h-1zM134,666h1v1h-1zM135,667h2v1h-2zM137,668h1v1h-1zM138,667h1v1h-1zM139,666h1v1h-1zM140,665h1v1h-1zM141,664h2v1h-2zM143,663h2v1h-2zM145,662h2v1h-2zM147,663h7v1h-7zM154,664h1v1h-1zM155,665h1v2h-1zM156,667h1v1h-1zM157,668h5v1h-5zM161,666h1v2h-1zM162,660h1v6h-1zM163,654h1v6h-1zM164,648h1v6h-1zM165,645h1v3h-1zM166,645h1v1h-1zM167,644h2v1h-2zM169,643h1v1h-1zM170,642h2v1h-2zM172,641h1v1h-1zM173,640h1v1h-1zM174,641h2v1h-2zM176,642h2v1h-2zM178,640h1v2h-1zM179,639h1v1h-1zM180,637h1v2h-1zM181,636h1v1h-1zM182,635h2v1h-2zM184,634h1v1h-1zM185,633h3v1h-3zM188,632h4v1h-4zM192,631h7v1h-7zM199,632h3v1h-3zM202,633h1v1h-1zM203,634h1v2h-1zM204,636h1v1h-1zM205,637h1v1h-1zM206,638h1v1h-1zM207,639h1v2h-1zM208,641h1v1h-1zM209,642h1v1h-1zM210,641h1v1h-1zM211,639h1v2h-1zM212,638h1v1h-1zM213,637h1v1h-1zM214,638h1v1h-1zM215,639h1v1h-1zM216,640h1v1h-1zM217,641h1v1h-1zM218,642h1v1h-1zM219,643h2v1h-2zM221,644h1v1h-1zM222,645h1v1h-1zM223,646h2v1h-2zM225,647h2v1h-2zM227,648h3v1h-3zM230,649h1v1h-1zM231,650h1v2h-1zM232,652h2v1h-2zM233,653h1v1h-1zM234,649h1v3h-1zM235,646h1v3h-1zM236,643h1v3h-1zM237,641h1v2h-1zM238,641h1v1h-1zM239,640h2v1h-2zM241,639h1v1h-1zM242,640h2v1h-2zM244,641h2v1h-2zM246,642h1v1h-1zM247,643h2v1h-2zM249,644h1v1h-1zM250,642h1v2h-1zM251,641h1v1h-1zM252,639h1v2h-1zM253,637h1v2h-1zM254,634h1v3h-1zM255,631h1v3h-1zM256,628h1v3h-1zM257,626h1v2h-1zM258,627h1v2h-1zM259,629h1v1h-1zM260,630h1v2h-1zM261,632h1v1h-1zM262,633h2v1h-2zM264,634h2v1h-2zM266,635h1v1h-1zM267,636h1v1h-1zM268,637h1v1h-1zM269,638h2v1h-2zM271,637h3v1h-3zM273,636h1v1h-1zM274,638h1v4h-1zM275,642h1v3h-1zM276,645h1v4h-1zM277,649h1v2h-1zM278,651h1v1h-1zM279,652h2v1h-2zM281,653h1v1h-1zM282,654h2v1h-2zM284,655h6v1h-6zM290,656h2v1h-2zM292,657h2v1h-2zM294,656h1v1h-1zM295,655h1v1h-1zM296,654h1v1h-1zM297,653h1v1h-1zM298,652h1v1h-1zM299,651h1v1h-1zM300,650h1v1h-1zM301,649h1v1h-1zM302,650h1v1h-1zM303,651h2v1h-2zM305,652h1v1h-1zM306,651h1v1h-1zM307,650h1v1h-1zM308,649h1v1h-1zM309,648h1v1h-1zM310,647h2v1h-2zM312,646h1v1h-1zM313,645h2v1h-2zM315,646h4v1h-4zM319,645h2v1h-2zM321,644h1v1h-1zM322,643h2v1h-2zM324,642h2v1h-2zM325,641h1v1h-1zM326,643h1v3h-1zM327,646h1v2h-1zM328,648h1v3h-1zM329,651h1v2h-1zM330,650h1v2h-1zM331,648h1v2h-1zM332,646h1v2h-1zM333,645h5v1h-5zM338,644h1v1h-1zM339,642h1v2h-1zM340,641h1v1h-1zM341,640h5v1h-5zM346,641h1v1h-1zM347,642h1v2h-1zM348,644h1v1h-1zM349,645h1v1h-1zM350,646h1v1h-1zM351,647h2v1h-2zM353,648h1v1h-1zM354,649h1v1h-1zM355,650h2v1h-2zM357,651h1v1h-1zM358,652h1v1h-1zM359,653h2v1h-2zM361,654h2v1h-2zM363,653h2v1h-2zM365,652h1v1h-1zM366,653h2v1h-2zM368,654h2v1h-2zM370,655h1v1h-1zM371,656h1v2h-1zM372,658h1v1h-1zM373,659h2v1h-2zM375,658h2v1h-2zM377,657h3v1h-3zM380,656h3v1h-3zM383,655h2v1h-2zM385,654h3v1h-3zM388,653h2v1h-2zM390,651h1v2h-1zM391,650h1v1h-1zM392,648h1v2h-1zM393,647h5v1h-5zM398,648h1v1h-1zM399,649h1v1h-1zM400,650h1v1h-1zM401,651h1v1h-1zM402,649h1v2h-1zM403,648h1v1h-1zM404,646h1v2h-1zM405,645h2v1h-2zM407,646h3v1h-3zM410,645h2v1h-2zM412,644h1v1h-1zM413,643h5v1h-5zM418,644h1v1h-1zM419,645h2v1h-2zM421,646h1v1h-1zM422,645h1v1h-1zM423,643h1v2h-1zM424,642h1v1h-1zM425,641h1v1h-1zM426,642h1v1h-1zM427,643h1v2h-1zM428,645h1v1h-1zM429,646h2v1h-2zM431,647h3v1h-3zM434,645h1v2h-1zM435,644h1v1h-1zM436,642h1v2h-1zM437,641h1v1h-1zM438,640h1v1h-1zM439,638h1v2h-1zM440,637h2v1h-2zM441,636h1v1h-1zM442,638h1v3h-1zM443,641h1v4h-1zM444,645h1v3h-1zM445,648h1v2h-1zM446,649h1v1h-1zM447,648h2v1h-2zM449,647h1v1h-1zM450,646h1v1h-1zM451,645h1v1h-1zM452,644h1v1h-1zM453,643h2v1h-2zM455,644h3v1h-3zM458,643h2v1h-2zM460,642h2v1h-2zM461,641h1v1h-1zM462,643h1v2h-1zM463,645h1v3h-1zM464,648h1v2h-1zM465,650h1v2h-1zM466,647h1v3h-1zM467,645h1v2h-1zM468,642h1v3h-1zM469,641h3v1h-3zM469,640h1v1h-1zM472,642h2v1h-2zM474,643h2v1h-2zM476,644h6v1h-6zM482,643h2v1h-2zM484,642h1v1h-1zM485,641h3v1h-3zM488,640h2v1h-2zM490,639h1v1h-1zM491,638h1v1h-1zM492,637h1v1h-1zM493,636h1v1h-1zM494,637h1v1h-1zM495,638h1v2h-1zM496,640h1v1h-1zM497,641h1v1h-1zM498,639h1v2h-1zM499,638h1v1h-1zM500,636h1v2h-1zM501,635h7v1h-7zM508,634h2v1h-2zM510,635h2v1h-2zM512,636h3v1h-3zM515,637h3v1h-3zM518,638h1v1h-1zM519,639h1v1h-1zM520,640h1v1h-1zM521,641h9v1h-9zM530,642h1v1h-1zM531,643h2v1h-2zM533,644h1v1h-1zM534,645h1v2h-1zM535,647h1v2h-1zM536,649h1v2h-1zM537,651h1v3h-1zM538,654h1v2h-1zM539,656h1v2h-1zM540,658h1v2h-1zM541,660h1v2h-1zM542,662h2v1h-2zM544,663h2v1h-2zM546,661h1v2h-1zM547,659h1v2h-1zM548,657h1v2h-1zM549,656h5v1h-5zM554,655h2v1h-2zM556,654h1v1h-1zM557,653h1v1h-1zM558,654h2v1h-2zM560,655h3v1h-3zM563,656h3v1h-3zM566,657h1v1h-1zM567,658h1v1h-1zM568,659h1v1h-1zM569,660h1v1h-1zM570,659h2v1h-2zM572,658h1v1h-1zM573,657h5v1h-5zM578,658h1v1h-1zM579,659h2v1h-2zM581,660h1v1h-1zM582,659h2v1h-2zM584,658h1v1h-1zM585,657h2v1h-2zM587,658h3v1h-3zM590,659h1v1h-1zM591,660h1v1h-1zM592,661h1v1h-1zM593,662h1v1h-1zM594,660h1v2h-1zM595,659h1v1h-1zM596,657h1v2h-1zM597,656h3v1h-3zM600,655h2v1h-2zM602,656h1v2h-1zM603,658h1v2h-1zM604,660h1v2h-1zM605,662h1v2h-1zM606,663h4v1h-4zM610,664h1v1h-1zM611,665h2v1h-2zM613,666h1v1h-1zM614,667h2v1h-2zM616,668h2v1h-2zM618,669h1v1h-1zM619,670h2v1h-2zM621,671h2v1h-2zM623,672h3v1h-3zM625,671h1v1h-1zM626,668h1v3h-1zM627,664h1v4h-1zM628,661h1v3h-1zM629,659h1v2h-1zM630,660h1v1h-1zM631,661h1v2h-1zM632,663h1v1h-1zM633,664h3v1h-3zM636,663h2v1h-2zM638,662h1v1h-1zM639,660h1v2h-1zM640,659h1v1h-1zM641,658h1v1h-1zM642,657h2v1h-2zM644,656h1v1h-1zM645,655h1v1h-1zM646,654h1v1h-1zM647,653h1v1h-1zM648,652h1v1h-1zM649,651h1v1h-1zM650,652h2v1h-2zM652,653h2v1h-2zM654,652h2v1h-2zM656,651h1v1h-1zM657,650h1v1h-1zM658,651h1v1h-1zM659,652h2v1h-2zM661,653h2v1h-2zM663,654h3v1h-3zM666,653h1v1h-1zM667,651h1v2h-1zM668,650h1v1h-1zM669,649h2v1h-2zM671,648h2v1h-2zM673,647h1v1h-1zM674,646h1v1h-1zM675,645h1v1h-1zM676,644h1v1h-1zM677,643h1v1h-1zM678,641h1v2h-1zM679,640h1v1h-1zM680,638h1v2h-1zM681,637h1v1h-1zM682,638h1v1h-1zM683,639h2v1h-2zM685,640h2v1h-2zM687,639h2v1h-2zM689,638h1v1h-1zM690,637h2v1h-2zM692,636h1v1h-1zM693,635h5v1h-5zM697,636h1v1h-1zM698,637h1v2h-1zM699,639h1v2h-1zM700,641h1v2h-1zM701,643h1v2h-1zM702,645h2v1h-2zM704,646h2v1h-2zM706,647h1v1h-1zM707,648h2v1h-2zM709,649h1v1h-1zM710,650h1v2h-1zM711,652h1v1h-1zM712,653h1v2h-1zM713,655h1v1h-1zM714,656h1v1h-1zM715,657h1v2h-1zM716,659h1v1h-1zM717,660h2v1h-2zM719,661h4v1h-4zM723,662h3v1h-3zM726,661h2v1h-2zM728,660h1v1h-1zM729,659h5v1h-5zM733,658h1v1h-1zM734,655h1v3h-1zM735,652h1v3h-1zM736,649h1v3h-1zM737,647h1v2h-1zM738,647h2v1h-2zM740,646h4v1h-4zM744,645h2v1h-2zM746,643h1v2h-1zM747,641h1v2h-1zM748,639h1v2h-1zM749,637h1v2h-1zM750,637h1v1h-1zM751,636h2v1h-2zM753,635h2v1h-2zM755,634h2v1h-2zM757,633h2v1h-2zM759,632h2v1h-2zM761,631h2v1h-2zM763,630h2v1h-2zM765,629h3v1h-3zM768,628h2v1h-2zM769,629h1v1h-1zM770,630h1v4h-1zM771,634h1v4h-1zM772,638h1v4h-1zM773,642h1v2h-1zM774,641h1v2h-1zM775,640h1v1h-1zM776,638h1v2h-1zM777,637h1v1h-1zM778,635h1v2h-1zM779,634h1v1h-1zM780,632h1v2h-1zM781,631h1v1h-1zM782,632h1v1h-1zM783,633h2v1h-2zM785,634h1v2h-1zM786,636h1v2h-1zM787,638h1v3h-1zM788,641h1v2h-1zM789,643h1v2h-1zM790,644h1v1h-1zM791,643h2v1h-2zM793,642h1v1h-1zM794,643h2v1h-2zM796,644h2v1h-2zM798,645h1v2h-1zM799,647h1v2h-1zM800,649h1v2h-1zM801,651h1v1h-1zM802,649h1v2h-1zM803,648h1v1h-1zM804,646h1v2h-1zM805,645h1v1h-1zM806,644h2v1h-2zM808,643h1v1h-1zM809,642h1v1h-1zM810,641h1v1h-1zM811,640h1v1h-1zM812,639h1v1h-1zM813,638h2v1h-2zM815,637h2v1h-2zM817,636h2v1h-2zM819,635h2v1h-2zM821,634h1v1h-1zM822,635h1v1h-1zM823,636h1v1h-1zM824,637h1v1h-1zM825,638h3v1h-3zM828,637h2v1h-2zM830,636h2v1h-2zM832,635h1v1h-1zM833,634h10v1h-10zM843,635h3v1h-3zM845,636h1v1h-1zM846,637h1v2h-1zM847,639h1v2h-1zM848,641h1v2h-1zM849,643h1v2h-1zM850,645h1v1h-1zM851,646h1v1h-1zM852,647h1v1h-1zM853,648h1v1h-1zM854,649h1v1h-1zM855,650h1v1h-1zM856,651h1v1h-1zM857,652h1v1h-1zM858,653h1v2h-1zM859,655h1v2h-1zM860,657h1v2h-1zM861,659h9v1h-9zM870,660h1v1h-1zM871,661h1v2h-1zM872,663h1v1h-1zM873,664h1v1h-1zM874,663h1v1h-1zM875,662h1v1h-1zM876,661h1v1h-1zM877,660h1v1h-1zM878,661h1v1h-1zM879,662h2v1h-2zM881,663h1v1h-1zM882,664h1v2h-1zM883,666h1v1h-1zM884,667h1v2h-1zM885,669h2v1h-2zM887,670h4v1h-4zM891,671h4v1h-4zM895,672h4v1h-4zM899,673h3v1h-3zM901,672h1v1h-1zM902,668h1v4h-1zM903,665h1v3h-1zM904,661h1v4h-1zM905,660h3v1h-3zM905,659h1v1h-1zM908,661h6v1h-6zM914,662h1v1h-1zM915,663h1v1h-1zM916,664h2v1h-2zM917,665h1v1h-1zM918,662h1v2h-1zM919,660h1v2h-1zM920,658h1v2h-1zM921,656h1v2h-1zM922,657h1v2h-1zM923,659h1v1h-1zM924,660h1v2h-1zM925,662h1v1h-1zM926,660h1v2h-1zM927,658h1v2h-1zM928,656h1v2h-1zM929,654h1v2h-1zM930,654h1v1h-1zM931,655h5v1h-5zM936,654h2v1h-2zM938,655h2v1h-2zM940,656h3v1h-3zM943,655h2v1h-2zM945,654h2v1h-2zM947,653h2v1h-2zM949,652h1v1h-1zM950,653h1v1h-1zM951,654h1v1h-1zM952,655h1v1h-1zM953,656h1v1h-1zM954,657h2v1h-2zM956,658h4v1h-4zM960,657h2v1h-2zM962,655h1v2h-1zM963,653h1v2h-1zM964,651h1v2h-1zM965,650h1v1h-1zM966,651h1v1h-1zM967,652h1v1h-1zM968,653h1v1h-1zM969,654h1v1h-1zM970,655h2v1h-2zM972,656h2v1h-2zM974,657h2v1h-2zM976,658h10v1h-10zM986,659h2v1h-2zM988,660h2v1h-2zM989,659h1v1h-1zM990,657h1v2h-1zM991,654h1v3h-1zM992,652h1v2h-1zM993,650h1v2h-1zM994,648h1v2h-1zM995,646h1v2h-1zM996,644h1v2h-1zM997,642h1v2h-1zM998,641h1v1h-1zM999,640h1v1h-1zM1000,639h1v1h-1zM1001,638h1v1h-1zM1002,637h1v1h-1zM1003,635h1v2h-1zM1004,634h1v1h-1zM1005,633h1v1h-1zM1006,634h2v1h-2zM1008,635h2v1h-2zM1010,634h1v1h-1zM1011,633h1v1h-1zM1012,632h1v1h-1zM1013,631h2v1h-2zM1015,632h3v1h-3zM1018,633h1v1h-1zM1019,634h2v1h-2zM1021,635h2v1h-2zM1023,634h2v1h-2zM1025,633h1v1h-1zM1026,632h2v1h-2zM1028,631h1v1h-1zM1029,630h1v1h-1zM1030,631h2v1h-2zM1032,632h2v1h-2zM1034,633h1v1h-1zM1035,634h1v1h-1zM1036,635h1v1h-1zM1037,636h1v1h-1zM1038,637h2v1h-2zM1040,638h2v1h-2zM1042,639h1v1h-1zM1043,640h2v1h-2zM1045,641h1v2h-1zM1046,643h1v2h-1zM1047,645h1v3h-1zM1048,648h1v2h-1zM1049,650h1v2h-1zM1050,652h1v1h-1zM1051,653h1v1h-1zM1052,654h1v1h-1zM1053,655h2v1h-2zM1055,656h4v1h-4zM1059,655h2v1h-2zM1061,654h1v1h-1zM1062,653h1v1h-1zM1063,651h1v2h-1zM1064,650h1v1h-1zM1065,649h1v1h-1zM1066,650h1v2h-1zM1067,652h1v2h-1zM1068,654h1v2h-1zM1069,656h3v1h-3zM1072,655h3v1h-3zM1075,654h2v1h-2zM1077,653h2v1h-2zM1079,654h3v1h-3zM1082,655h2v1h-2zM1084,656h2v1h-2zM1086,657h1v2h-1zM1087,659h1v2h-1zM1088,661h1v2h-1zM1089,663h5v1h-5zM1093,662h1v1h-1zM1094,659h1v3h-1zM1095,655h1v4h-1zM1096,652h1v3h-1zM1097,650h1v2h-1zM1098,650h1v1h-1zM1099,649h2v1h-2zM1101,648h2v1h-2zM1103,647h2v1h-2zM1105,646h1v1h-1zM1106,647h1v1h-1zM1107,648h1v2h-1zM1108,650h1v1h-1zM1109,651h1v1h-1zM1110,652h1v1h-1zM1111,653h2v1h-2zM1113,654h3v1h-3zM1116,653h2v1h-2zM1117,652h1v1h-1zM1118,650h1v2h-1zM1119,648h1v2h-1zM1120,646h1v2h-1zM1121,644h1v2h-1zM1122,642h1v2h-1zM1123,641h1v1h-1zM1124,639h1v2h-1zM1125,638h2v1h-2zM1127,639h3v1h-3zM1130,640h1v2h-1zM1131,642h1v1h-1zM1132,643h1v2h-1zM1133,645h1v1h-1zM1134,646h2v1h-2zM1136,647h3v1h-3zM1139,648h3v1h-3zM1141,647h1v1h-1zM1142,644h1v3h-1zM1143,641h1v3h-1zM1144,638h1v3h-1zM1145,636h1v2h-1zM1146,635h2v1h-2zM1148,634h1v1h-1zM1149,633h3v1h-3zM1152,632h3v1h-3zM1155,631h2v1h-2zM1157,630h2v1h-2zM1159,631h3v1h-3zM1162,632h1v1h-1zM1163,633h1v1h-1zM1164,634h1v1h-1zM1165,635h1v1h-1zM1166,636h1v2h-1zM1167,638h1v2h-1zM1168,640h1v2h-1zM1169,642h1v1h-1zM1170,641h2v1h-2zM1172,640h1v1h-1zM1173,639h1v1h-1zM1174,640h1v1h-1zM1175,641h2v1h-2zM1177,642h1v1h-1zM1178,641h1v1h-1zM1179,640h1v1h-1zM1180,639h1v1h-1zM1181,638h1v1h-1zM1182,637h1v1h-1zM1183,636h1v1h-1zM1184,635h1v1h-1zM1185,634h3v1h-3zM1188,633h2v1h-2zM1190,632h2v1h-2zM1192,631h1v1h-1zM1193,630h1v1h-1zM1194,629h2v1h-2zM1196,628h1v1h-1zM1197,627h1v1h-1zM1198,628h2v1h-2zM1200,629h3v1h-3zM1203,630h3v1h-3zM1206,631h2v1h-2zM1208,632h3v1h-3zM1211,633h3v1h-3zM1214,634h2v1h-2zM1216,635h2v1h-2zM1218,636h1v2h-1zM1219,638h1v2h-1zM1220,640h1v2h-1zM1221,642h2v1h-2zM1223,643h3v1h-3zM1226,644h2v1h-2zM1228,645h2v1h-2zM1230,646h2v1h-2zM1232,647h2v1h-2zM1234,648h2v1h-2zM1236,649h2v1h-2zM1237,650h1v1h-1zM1238,651h1v3h-1zM1239,654h1v3h-1zM1240,657h1v3h-1zM1241,660h1v2h-1zM1242,657h1v3h-1zM1243,655h1v2h-1zM1244,652h1v3h-1zM1245,650h1v2h-1zM1246,650h8v1h-8zM1254,649h2v1h-2zM1256,648h1v1h-1zM1257,647h1v1h-1zM1258,648h1v1h-1zM1259,649h1v2h-1zM1260,651h1v1h-1zM1261,652h2v1h-2zM1263,653h3v1h-3zM1266,654h1v1h-1zM1267,655h2v1h-2zM1269,656h5v1h-5zM1274,657h2v1h-2zM1276,658h2v1h-2zM1278,657h1v1h-1zM1279,656h1v1h-1zM1280,655h1v1h-1zM1281,654h2v1h-2zM1283,655h3v1h-3zM1286,656h1v1h-1zM1287,657h2v1h-2zM1289,658h2v1h-2zM1291,659h7v1h-7zM1297,657h1v2h-1zM1298,653h1v4h-1zM1299,649h1v4h-1zM1300,645h1v4h-1zM1301,642h1v3h-1zM1302,640h1v2h-1zM1303,639h1v1h-1zM1304,637h1v2h-1zM1305,636h2v1h-2zM1307,635h2v1h-2zM1309,634h1v1h-1zM1310,635h1v2h-1zM1311,637h1v2h-1zM1312,639h1v2h-1zM1313,641h3v1h-3zM1316,640h3v1h-3zM1319,639h2v1h-2zM1321,638h1v1h-1zM1322,639h1v1h-1zM1323,640h2v1h-2zM1325,641h1v1h-1zM1326,642h1v2h-1zM1327,644h1v1h-1zM1328,645h1v2h-1zM1329,646h1v2h-1zM1330,644h1v2h-1zM1331,641h1v3h-1zM1332,639h1v2h-1zM1333,636h1v3h-1zM1334,634h1v2h-1zM1335,632h1v2h-1zM1336,630h1v2h-1zM1337,628h1v2h-1zM1338,627h2v1h-2zM1340,626h1v1h-1zM1341,625h1v1h-1z"/></g>
<text x="8.7" y="605.0" font-size="10.0" fill="#000" textLength="68.6" lengthAdjust="spacingAndGlyphs" stroke="#000" stroke-width="0.13">RSI(14) 68.7321</text>
</g>
<g id="macd">
<path shape-rendering="crispEdges" fill="#c0c0c0" d="M5,705h1v38h-1zM9,703h1v40h-1zM13,706h1v37h-1zM17,713h1v30h-1zM21,718h1v25h-1zM25,721h1v22h-1zM29,724h1v19h-1zM33,727h1v16h-1zM37,730h1v13h-1zM41,725h1v18h-1zM45,722h1v21h-1zM49,720h1v23h-1zM53,715h1v28h-1zM57,711h1v32h-1zM61,715h1v28h-1zM65,723h1v20h-1zM69,729h1v14h-1zM73,734h1v9h-1zM77,740h1v3h-1zM81,742h1v2h-1zM85,742h1v3h-1zM89,742h1v3h-1zM93,742h1v8h-1zM97,742h1v11h-1zM101,742h1v13h-1zM105,742h1v15h-1zM109,742h1v16h-1zM113,742h1v22h-1zM117,742h1v29h-1zM121,742h1v36h-1zM125,742h1v41h-1zM129,742h1v46h-1zM133,742h1v47h-1zM137,742h1v50h-1zM141,742h1v51h-1zM145,742h1v50h-1zM149,742h1v50h-1zM153,742h1v49h-1zM157,742h1v51h-1zM161,742h1v52h-1zM165,742h1v44h-1zM169,742h1v36h-1zM173,742h1v28h-1zM177,742h1v22h-1zM181,742h1v14h-1zM185,742h1v6h-1zM189,741h1v2h-1zM193,735h1v8h-1zM197,730h1v13h-1zM201,727h1v16h-1zM205,727h1v16h-1zM209,728h1v15h-1zM213,727h1v16h-1zM217,728h1v15h-1zM221,730h1v13h-1zM225,733h1v10h-1zM229,735h1v8h-1zM233,740h1v3h-1zM237,739h1v4h-1zM241,736h1v7h-1zM245,736h1v7h-1zM249,737h1v6h-1zM253,734h1v9h-1zM257,725h1v18h-1zM261,721h1v22h-1zM265,718h1v25h-1zM269,718h1v25h-1zM273,718h1v25h-1zM277,725h1v18h-1zM281,733h1v10h-1zM285,741h1v2h-1zM289,742h1v5h-1zM293,742h1v12h-1zM297,742h1v15h-1zM301,742h1v16h-1zM305,742h1v17h-1zM309,742h1v16h-1zM313,742h1v14h-1zM317,742h1v12h-1zM321,742h1v10h-1zM325,742h1v7h-1zM329,742h1v10h-1zM333,742h1v8h-1zM337,742h1v8h-1zM341,742h1v4h-1zM349,742h1v1h-1zM353,742h1v3h-1zM357,742h1v6h-1zM361,742h1v10h-1zM365,742h1v12h-1zM369,742h1v15h-1zM373,742h1v20h-1zM377,742h1v23h-1zM381,742h1v25h-1zM385,742h1v26h-1zM389,742h1v25h-1zM393,742h1v22h-1zM397,742h1v20h-1zM401,742h1v19h-1zM405,742h1v17h-1zM409,742h1v15h-1zM413,742h1v12h-1zM417,742h1v9h-1zM421,742h1v9h-1zM425,742h1v6h-1zM429,742h1v5h-1zM433,742h1v5h-1zM437,742h1v3h-1zM441,741h1v2h-1zM445,742h1v1h-1zM449,742h1v3h-1zM453,742h1v1h-1zM457,742h1v1h-1zM461,741h1v2h-1zM465,742h1v2h-1zM473,741h1v2h-1zM477,741h1v2h-1zM481,741h1v2h-1zM485,739h1v4h-1zM489,737h1v6h-1zM493,734h1v9h-1zM497,733h1v10h-1zM501,729h1v14h-1zM505,727h1v16h-1zM509,725h1v18h-1zM513,723h1v20h-1zM517,723h1v20h-1zM521,725h1v18h-1zM525,726h1v17h-1zM529,727h1v16h-1zM533,729h1v14h-1zM537,734h1v9h-1zM541,742h1v1h-1zM545,742h1v10h-1zM549,742h1v14h-1zM553,742h1v17h-1zM557,742h1v18h-1zM561,742h1v20h-1zM565,742h1v21h-1zM569,742h1v25h-1zM573,742h1v26h-1zM577,742h1v27h-1zM581,742h1v29h-1zM585,742h1v29h-1zM589,742h1v29h-1zM593,742h1v31h-1zM597,742h1v31h-1zM601,742h1v30h-1zM605,742h1v33h-1zM609,742h1v35h-1zM613,742h1v37h-1zM617,742h1v41h-1zM621,742h1v45h-1zM625,742h1v49h-1zM629,742h1v47h-1zM633,742h1v49h-1zM637,742h1v49h-1zM641,742h1v47h-1zM645,742h1v44h-1zM649,742h1v39h-1zM653,742h1v37h-1zM657,742h1v33h-1zM661,742h1v32h-1zM665,742h1v30h-1zM669,742h1v27h-1zM673,742h1v23h-1zM677,742h1v19h-1zM681,742h1v13h-1zM685,742h1v9h-1zM689,742h1v5h-1zM693,742h1v1h-1zM697,739h1v4h-1zM701,740h1v3h-1zM705,740h1v3h-1zM713,742h1v4h-1zM717,742h1v10h-1zM721,742h1v15h-1zM725,742h1v19h-1zM729,742h1v21h-1zM733,742h1v23h-1zM737,742h1v20h-1zM741,742h1v17h-1zM745,742h1v15h-1zM749,742h1v9h-1zM753,742h1v4h-1zM757,741h1v2h-1zM761,737h1v6h-1zM765,733h1v10h-1zM769,728h1v15h-1zM773,730h1v13h-1zM777,729h1v14h-1zM781,725h1v18h-1zM785,723h1v20h-1zM789,726h1v17h-1zM793,727h1v16h-1zM797,729h1v14h-1zM801,734h1v9h-1zM805,736h1v7h-1zM809,735h1v8h-1zM813,733h1v10h-1zM817,730h1v13h-1zM821,727h1v16h-1zM825,726h1v17h-1zM829,726h1v17h-1zM833,724h1v19h-1zM837,722h1v21h-1zM841,721h1v22h-1zM845,721h1v22h-1zM849,724h1v19h-1zM853,729h1v14h-1zM857,734h1v9h-1zM865,742h1v6h-1zM869,742h1v11h-1zM873,742h1v17h-1zM877,742h1v21h-1zM881,742h1v25h-1zM885,742h1v33h-1zM889,742h1v39h-1zM893,742h1v45h-1zM897,742h1v49h-1zM901,742h1v54h-1zM905,742h1v52h-1zM909,742h1v51h-1zM913,742h1v50h-1zM917,742h1v52h-1zM921,742h1v49h-1zM925,742h1v51h-1zM929,742h1v48h-1zM933,742h1v46h-1zM937,742h1v44h-1zM941,742h1v42h-1zM945,742h1v40h-1zM949,742h1v37h-1zM953,742h1v36h-1zM957,742h1v36h-1zM961,742h1v35h-1zM965,742h1v32h-1zM969,742h1v31h-1zM973,742h1v31h-1zM977,742h1v31h-1zM981,742h1v32h-1zM985,742h1v32h-1zM989,742h1v32h-1zM993,742h1v29h-1zM997,742h1v23h-1zM1001,742h1v17h-1zM1005,742h1v9h-1zM1009,742h1v3h-1zM1013,738h1v5h-1zM1017,734h1v9h-1zM1021,731h1v12h-1zM1025,728h1v15h-1zM1029,724h1v19h-1zM1033,723h1v20h-1zM1037,722h1v21h-1zM1041,723h1v20h-1zM1045,725h1v18h-1zM1049,730h1v13h-1zM1053,736h1v7h-1zM1061,742h1v3h-1zM1065,742h1v5h-1zM1069,742h1v9h-1zM1073,742h1v12h-1zM1077,742h1v13h-1zM1081,742h1v14h-1zM1085,742h1v16h-1zM1089,742h1v21h-1zM1093,742h1v24h-1zM1097,742h1v23h-1zM1101,742h1v20h-1zM1105,742h1v18h-1zM1109,742h1v17h-1zM1113,742h1v18h-1zM1117,742h1v19h-1zM1121,742h1v16h-1zM1125,742h1v11h-1zM1129,742h1v7h-1zM1133,742h1v6h-1zM1137,742h1v6h-1zM1141,742h1v7h-1zM1145,742h1v1h-1zM1149,738h1v5h-1zM1153,733h1v10h-1zM1157,728h1v15h-1zM1161,725h1v18h-1zM1165,724h1v19h-1zM1169,725h1v18h-1zM1173,726h1v17h-1zM1177,727h1v16h-1zM1181,727h1v16h-1zM1185,725h1v18h-1zM1189,723h1v20h-1zM1193,720h1v23h-1zM1197,717h1v26h-1zM1201,715h1v28h-1zM1205,714h1v29h-1zM1209,714h1v29h-1zM1213,714h1v29h-1zM1217,716h1v27h-1zM1221,719h1v24h-1zM1225,722h1v21h-1zM1229,726h1v17h-1zM1233,729h1v14h-1zM1237,732h1v11h-1zM1241,739h1v4h-1zM1249,742h1v2h-1zM1253,742h1v3h-1zM1257,742h1v4h-1zM1261,742h1v6h-1zM1265,742h1v8h-1zM1269,742h1v10h-1zM1273,742h1v12h-1zM1277,742h1v14h-1zM1281,742h1v15h-1zM1285,742h1v15h-1zM1289,742h1v17h-1zM1293,742h1v18h-1zM1297,742h1v18h-1zM1301,742h1v15h-1zM1305,742h1v10h-1zM1309,742h1v5h-1zM1313,742h1v3h-1zM1317,742h1v1h-1zM1321,741h1v2h-1zM1325,740h1v3h-1zM1329,741h1v2h-1zM1333,739h1v4h-1zM1337,733h1v10h-1zM1341,726h1v17h-1z"/>
<rect x="8" y="699" width="150" height="13" fill="#fff"/>
<text x="9.0" y="711.0" font-size="10.0" fill="#000" textLength="66.4" lengthAdjust="spacingAndGlyphs" stroke="#000" stroke-width="0.13">MACD(12,26,9)</text>
<text x="77.6" y="711.0" font-size="10.0" fill="#000" textLength="38.0" lengthAdjust="spacingAndGlyphs" stroke="#000" stroke-width="0.13">0.001609</text>
<text x="119.0" y="711.0" font-size="10.0" fill="#000" textLength="38.0" lengthAdjust="spacingAndGlyphs" stroke="#000" stroke-width="0.13">0.000242</text>
<g shape-rendering="crispEdges"><path fill="#ff0000" d="M5,712h3v1h-3zM11,712h3v1h-3zM17,712h3v1h-3zM23,712h3v1h-3zM29,712h2v1h-2zM31,713h1v1h-1zM35,715h2v1h-2zM37,716h1v1h-1zM41,719h1v1h-1zM42,720h2v1h-2zM47,722h3v1h-3zM53,722h3v1h-3zM59,722h1v1h-1zM60,721h2v1h-2zM65,721h3v1h-3zM71,722h3v1h-3zM77,723h1v1h-1zM78,724h1v1h-1zM79,725h1v1h-1zM83,728h2v1h-2zM85,729h1v1h-1zM89,732h1v1h-1zM90,733h1v1h-1zM91,734h1v1h-1zM95,738h1v1h-1zM96,739h1v1h-1zM97,740h1v1h-1zM101,744h1v1h-1zM102,745h1v1h-1zM103,746h1v1h-1zM107,749h2v1h-2zM109,750h1v1h-1zM113,752h1v1h-1zM114,753h1v1h-1zM115,754h1v1h-1zM119,757h1v1h-1zM120,758h1v1h-1zM121,759h1v1h-1zM125,763h1v1h-1zM126,764h1v1h-1zM127,765h1v1h-1zM131,769h1v2h-1zM132,771h1v1h-1zM136,775h1v1h-1zM137,776h1v1h-1zM138,777h1v1h-1zM142,781h1v1h-1zM143,782h2v1h-2zM148,785h1v1h-1zM149,786h1v1h-1zM150,787h1v1h-1zM154,789h1v1h-1zM155,790h2v1h-2zM160,792h3v1h-3zM166,791h2v1h-2zM168,790h1v1h-1zM172,789h1v1h-1zM173,788h1v1h-1zM174,787h1v1h-1zM178,783h1v1h-1zM179,782h1v1h-1zM180,781h1v1h-1zM183,777h1v1h-1zM184,776h1v1h-1zM185,775h1v1h-1zM188,771h1v1h-1zM189,770h1v1h-1zM190,769h1v1h-1zM192,765h1v1h-1zM193,764h1v1h-1zM194,763h1v1h-1zM196,758h1v2h-1zM197,757h1v1h-1zM199,753h1v1h-1zM200,751h1v2h-1zM203,747h1v1h-1zM204,745h1v2h-1zM208,741h1v1h-1zM209,740h1v1h-1zM210,739h1v1h-1zM214,735h1v1h-1zM215,734h1v1h-1zM216,733h1v1h-1zM220,731h1v1h-1zM221,730h2v1h-2zM226,729h3v1h-3zM232,730h2v1h-2zM234,731h1v1h-1zM238,732h1v1h-1zM239,733h2v1h-2zM244,734h3v1h-3zM250,735h1v1h-1zM251,736h2v1h-2zM256,735h3v1h-3zM262,734h1v1h-1zM263,733h2v1h-2zM268,730h1v1h-1zM269,729h2v1h-2zM274,727h2v1h-2zM276,726h1v1h-1zM280,725h3v1h-3zM286,726h1v1h-1zM287,727h2v1h-2zM292,730h1v1h-1zM293,731h1v1h-1zM294,732h1v1h-1zM298,736h1v1h-1zM299,737h1v1h-1zM300,738h1v1h-1zM303,742h1v1h-1zM304,743h1v1h-1zM305,744h1v1h-1zM309,748h1v1h-1zM310,749h1v1h-1zM311,750h1v1h-1zM315,753h1v1h-1zM316,754h2v1h-2zM321,755h3v1h-3zM327,755h3v1h-3zM333,754h3v1h-3zM339,753h1v1h-1zM340,752h2v1h-2zM345,750h3v1h-3zM351,749h1v1h-1zM352,748h2v1h-2zM357,747h3v1h-3zM363,748h3v1h-3zM369,748h1v1h-1zM370,749h2v1h-2zM375,751h1v1h-1zM376,752h2v1h-2zM381,755h1v1h-1zM382,756h1v1h-1zM383,757h1v1h-1zM387,759h1v1h-1zM388,760h2v1h-2zM393,762h2v1h-2zM395,763h1v1h-1zM399,764h3v1h-3zM405,764h3v1h-3zM411,763h1v1h-1zM412,762h2v1h-2zM417,760h2v1h-2zM419,759h1v1h-1zM423,757h2v1h-2zM425,756h1v1h-1zM429,754h3v1h-3zM435,752h2v1h-2zM437,751h1v1h-1zM441,749h3v1h-3zM447,748h1v1h-1zM448,747h2v1h-2zM453,746h3v1h-3zM459,745h1v1h-1zM460,744h2v1h-2zM465,744h3v1h-3zM471,743h3v1h-3zM477,743h3v1h-3zM483,742h3v1h-3zM489,741h3v1h-3zM495,740h1v1h-1zM496,739h2v1h-2zM501,737h3v1h-3zM507,735h2v1h-2zM509,734h1v1h-1zM513,732h2v1h-2zM515,731h1v1h-1zM519,729h2v1h-2zM521,728h1v1h-1zM525,727h3v1h-3zM531,727h1v1h-1zM532,726h2v1h-2zM537,727h2v1h-2zM539,728h1v1h-1zM543,730h2v1h-2zM545,731h1v1h-1zM549,735h1v1h-1zM550,736h1v1h-1zM551,737h1v1h-1zM555,741h1v1h-1zM556,742h1v1h-1zM557,743h1v1h-1zM561,747h1v1h-1zM562,748h1v1h-1zM563,749h1v1h-1zM567,753h1v1h-1zM568,754h1v1h-1zM569,755h1v1h-1zM573,759h1v1h-1zM574,760h1v1h-1zM575,761h1v1h-1zM579,763h1v1h-1zM580,764h2v1h-2zM585,766h2v1h-2zM587,767h1v1h-1zM591,768h3v1h-3zM597,770h2v1h-2zM599,771h1v1h-1zM603,771h3v1h-3zM609,772h1v1h-1zM610,773h2v1h-2zM615,775h3v1h-3zM621,777h1v1h-1zM622,778h2v1h-2zM627,780h3v1h-3zM633,782h1v1h-1zM634,783h1v1h-1zM635,784h1v1h-1zM639,786h3v1h-3zM645,787h3v1h-3zM651,787h3v1h-3zM657,786h2v1h-2zM659,785h1v1h-1zM663,783h2v1h-2zM665,782h1v1h-1zM669,779h2v1h-2zM671,778h1v1h-1zM675,775h1v1h-1zM676,774h1v1h-1zM677,773h1v1h-1zM681,770h1v1h-1zM682,769h2v1h-2zM687,765h1v1h-1zM688,764h1v1h-1zM689,763h1v1h-1zM693,760h1v1h-1zM694,759h1v1h-1zM695,758h1v1h-1zM699,754h1v1h-1zM700,753h1v1h-1zM701,752h1v1h-1zM705,749h2v1h-2zM707,748h1v1h-1zM711,746h2v1h-2zM713,745h1v1h-1zM717,745h3v1h-3zM723,746h1v1h-1zM724,747h2v1h-2zM729,749h1v1h-1zM730,750h1v1h-1zM731,751h1v1h-1zM735,753h1v1h-1zM736,754h2v1h-2zM741,756h1v1h-1zM742,757h2v1h-2zM747,758h3v1h-3zM753,758h2v1h-2zM755,757h1v1h-1zM759,755h2v1h-2zM761,754h1v1h-1zM765,750h1v1h-1zM766,749h1v1h-1zM767,748h1v1h-1zM771,745h1v1h-1zM772,744h1v1h-1zM773,743h1v1h-1zM777,739h1v1h-1zM778,738h2v1h-2zM783,734h1v1h-1zM784,733h1v1h-1zM785,732h1v1h-1zM789,730h3v1h-3zM795,729h1v1h-1zM796,728h2v1h-2zM801,728h2v1h-2zM803,729h1v1h-1zM807,729h3v1h-3zM813,730h3v1h-3zM819,731h3v1h-3zM825,731h3v1h-3zM831,731h1v1h-1zM832,730h2v1h-2zM837,729h2v1h-2zM839,728h1v1h-1zM843,727h1v1h-1zM844,726h2v1h-2zM849,725h3v1h-3zM855,725h3v1h-3zM861,727h1v1h-1zM862,728h2v1h-2zM867,731h1v1h-1zM868,732h1v1h-1zM869,733h1v1h-1zM873,737h1v1h-1zM874,738h1v1h-1zM875,739h1v1h-1zM879,743h1v2h-1zM880,745h1v1h-1zM883,749h1v1h-1zM884,750h1v2h-1zM887,755h1v1h-1zM888,756h1v2h-1zM891,761h1v1h-1zM892,762h1v2h-1zM895,767h1v1h-1zM896,768h1v1h-1zM897,769h1v1h-1zM900,773h1v2h-1zM901,775h1v1h-1zM905,779h1v1h-1zM906,780h1v1h-1zM907,781h1v1h-1zM911,785h2v1h-2zM913,786h1v1h-1zM917,789h1v1h-1zM918,790h2v1h-2zM923,792h3v1h-3zM929,793h3v1h-3zM935,792h1v1h-1zM936,791h2v1h-2zM941,790h3v1h-3zM947,788h2v1h-2zM949,787h1v1h-1zM953,786h2v1h-2zM955,785h1v1h-1zM959,784h1v1h-1zM960,783h2v1h-2zM965,781h2v1h-2zM967,780h1v1h-1zM971,779h1v1h-1zM972,778h2v1h-2zM977,776h3v1h-3zM983,776h1v1h-1zM984,775h2v1h-2zM989,775h3v1h-3zM995,773h2v1h-2zM997,772h1v1h-1zM1001,771h1v1h-1zM1002,770h2v1h-2zM1007,767h1v1h-1zM1008,766h1v1h-1zM1009,765h1v1h-1zM1013,761h1v1h-1zM1014,760h1v1h-1zM1015,759h1v1h-1zM1019,754h1v2h-1zM1020,753h1v1h-1zM1023,749h1v1h-1zM1024,748h1v1h-1zM1025,747h1v1h-1zM1028,743h1v1h-1zM1029,742h1v1h-1zM1030,741h1v1h-1zM1033,737h1v1h-1zM1034,736h1v1h-1zM1035,735h1v1h-1zM1039,732h1v1h-1zM1040,731h1v1h-1zM1041,730h1v1h-1zM1045,728h3v1h-3zM1051,727h3v1h-3zM1057,728h1v1h-1zM1058,729h2v1h-2zM1063,732h2v1h-2zM1065,733h1v1h-1zM1069,736h1v1h-1zM1070,737h1v1h-1zM1071,738h1v1h-1zM1075,741h1v1h-1zM1076,742h1v1h-1zM1077,743h1v1h-1zM1081,746h1v1h-1zM1082,747h1v1h-1zM1083,748h1v1h-1zM1087,751h2v1h-2zM1089,752h1v1h-1zM1093,755h1v1h-1zM1094,756h2v1h-2zM1099,758h1v1h-1zM1100,759h2v1h-2zM1105,760h3v1h-3zM1111,761h3v1h-3zM1117,762h3v1h-3zM1123,761h2v1h-2zM1125,760h1v1h-1zM1129,758h3v1h-3zM1135,756h2v1h-2zM1137,755h1v1h-1zM1141,754h2v1h-2zM1143,753h1v1h-1zM1147,751h2v1h-2zM1149,750h1v1h-1zM1153,746h1v1h-1zM1154,745h2v1h-2zM1159,742h1v1h-1zM1160,741h1v1h-1zM1161,740h1v1h-1zM1165,737h2v1h-2zM1167,736h1v1h-1zM1171,734h1v1h-1zM1172,733h1v1h-1zM1173,732h1v1h-1zM1177,730h2v1h-2zM1179,729h1v1h-1zM1183,728h1v1h-1zM1184,727h2v1h-2zM1189,725h3v1h-3zM1195,725h1v1h-1zM1196,724h2v1h-2zM1201,723h2v1h-2zM1203,722h1v1h-1zM1207,721h1v1h-1zM1208,720h2v1h-2zM1213,719h2v1h-2zM1215,718h1v1h-1zM1219,717h3v1h-3zM1225,717h3v1h-3zM1231,718h1v1h-1zM1232,719h2v1h-2zM1237,721h1v1h-1zM1238,722h2v1h-2zM1243,725h1v1h-1zM1244,726h1v1h-1zM1245,727h1v1h-1zM1249,730h1v1h-1zM1250,731h1v1h-1zM1251,732h1v1h-1zM1255,735h2v1h-2zM1257,736h1v1h-1zM1261,739h1v1h-1zM1262,740h1v1h-1zM1263,741h1v1h-1zM1267,743h1v1h-1zM1268,744h2v1h-2zM1273,747h2v1h-2zM1275,748h1v1h-1zM1279,749h1v1h-1zM1280,750h2v1h-2zM1285,752h2v1h-2zM1287,753h1v1h-1zM1291,754h1v1h-1zM1292,755h2v1h-2zM1297,756h2v1h-2zM1299,757h1v1h-1zM1303,757h3v1h-3zM1309,756h3v1h-3zM1315,754h2v1h-2zM1317,753h1v1h-1zM1321,752h2v1h-2zM1323,751h1v1h-1zM1327,749h2v1h-2zM1329,748h1v1h-1zM1333,745h1v1h-1zM1334,744h2v1h-2zM1339,741h2v1h-2zM1341,740h1v1h-1z"/></g>
</g>
<g id="axis">
<text x="1691.0" y="30.0" font-size="10.0" fill="#000" textLength="33.2" lengthAdjust="spacingAndGlyphs" stroke="#000" stroke-width="0.13">0.74270</text>
<text x="1691.0" y="63.0" font-size="10.0" fill="#000" textLength="33.2" lengthAdjust="spacingAndGlyphs" stroke="#000" stroke-width="0.13">0.73810</text>
<text x="1691.0" y="96.0" font-size="10.0" fill="#000" textLength="33.2" lengthAdjust="spacingAndGlyphs" stroke="#000" stroke-width="0.13">0.73360</text>
<text x="1691.0" y="129.0" font-size="10.0" fill="#000" textLength="33.2" lengthAdjust="spacingAndGlyphs" stroke="#000" stroke-width="0.13">0.72900</text>
<text x="1691.0" y="162.0" font-size="10.0" fill="#000" textLength="33.2" lengthAdjust="spacingAndGlyphs" stroke="#000" stroke-width="0.13">0.72450</text>
<text x="1691.0" y="195.0" font-size="10.0" fill="#000" textLength="33.2" lengthAdjust="spacingAndGlyphs" stroke="#000" stroke-width="0.13">0.72000</text>
<text x="1691.0" y="228.0" font-size="10.0" fill="#000" textLength="33.2" lengthAdjust="spacingAndGlyphs" stroke="#000" stroke-width="0.13">0.71540</text>
<text x="1691.0" y="261.0" font-size="10.0" fill="#000" textLength="33.2" lengthAdjust="spacingAndGlyphs" stroke="#000" stroke-width="0.13">0.71090</text>
<text x="1691.0" y="294.0" font-size="10.0" fill="#000" textLength="33.2" lengthAdjust="spacingAndGlyphs" stroke="#000" stroke-width="0.13">0.70630</text>
<text x="1691.0" y="327.0" font-size="10.0" fill="#000" textLength="33.2" lengthAdjust="spacingAndGlyphs" stroke="#000" stroke-width="0.13">0.70180</text>
<text x="1691.0" y="360.0" font-size="10.0" fill="#000" textLength="33.2" lengthAdjust="spacingAndGlyphs" stroke="#000" stroke-width="0.13">0.69720</text>
<text x="1691.0" y="426.0" font-size="10.0" fill="#000" textLength="33.2" lengthAdjust="spacingAndGlyphs" stroke="#000" stroke-width="0.13">0.68810</text>
<text x="1691.0" y="459.0" font-size="10.0" fill="#000" textLength="33.2" lengthAdjust="spacingAndGlyphs" stroke="#000" stroke-width="0.13">0.68360</text>
<text x="1691.0" y="492.0" font-size="10.0" fill="#000" textLength="33.2" lengthAdjust="spacingAndGlyphs" stroke="#000" stroke-width="0.13">0.67910</text>
<text x="1691.0" y="525.0" font-size="10.0" fill="#000" textLength="33.2" lengthAdjust="spacingAndGlyphs" stroke="#000" stroke-width="0.13">0.67450</text>
<text x="1691.0" y="558.0" font-size="10.0" fill="#000" textLength="33.2" lengthAdjust="spacingAndGlyphs" stroke="#000" stroke-width="0.13">0.67000</text>
<text x="1691.0" y="591.0" font-size="10.0" fill="#000" textLength="33.2" lengthAdjust="spacingAndGlyphs" stroke="#000" stroke-width="0.13">0.66540</text>
<path class="ce" d="M1686,26h2v1h-2zM1686,59h2v1h-2zM1686,92h2v1h-2zM1686,125h2v1h-2zM1686,158h2v1h-2zM1686,191h2v1h-2zM1686,224h2v1h-2zM1686,257h2v1h-2zM1686,290h2v1h-2zM1686,323h2v1h-2zM1686,356h2v1h-2zM1686,422h2v1h-2zM1686,455h2v1h-2zM1686,488h2v1h-2zM1686,521h2v1h-2zM1686,554h2v1h-2zM1686,587h2v1h-2z" fill="#000"/>
<rect class="ce" x="1687" y="330" width="39" height="11" fill="#ff0000"/>
<text x="1691.0" y="339.0" font-size="10.0" fill="#fff" textLength="33.2" lengthAdjust="spacingAndGlyphs" stroke="#fff" stroke-width="0.13">0.70003</text>
<rect class="ce" x="1687" y="386" width="39" height="11" fill="#000000"/>
<text x="1691.0" y="395.0" font-size="10.0" fill="#fff" textLength="33.2" lengthAdjust="spacingAndGlyphs" stroke="#fff" stroke-width="0.13">0.69240</text>
<rect class="ce" x="1687" y="403" width="39" height="11" fill="#ff0000"/>
<text x="1691.0" y="412.0" font-size="10.0" fill="#fff" textLength="33.2" lengthAdjust="spacingAndGlyphs" stroke="#fff" stroke-width="0.13">0.69001</text>
<rect class="ce" x="1687" y="475" width="39" height="11" fill="#00ff00"/>
<text x="1691.0" y="484.0" font-size="10.0" fill="#fff" textLength="33.2" lengthAdjust="spacingAndGlyphs" stroke="#fff" stroke-width="0.13">0.68007</text>
<rect class="ce" x="1687" y="569" width="39" height="11" fill="#0000ff"/>
<text x="1691.0" y="578.0" font-size="10.0" fill="#fff" textLength="33.2" lengthAdjust="spacingAndGlyphs" stroke="#fff" stroke-width="0.13">0.66707</text>
<text x="1689.3" y="603.0" font-size="10.0" fill="#000" textLength="15.5" lengthAdjust="spacingAndGlyphs" stroke="#000" stroke-width="0.13">100</text>
<text x="1688.8" y="628.0" font-size="10.0" fill="#000" textLength="10.1" lengthAdjust="spacingAndGlyphs" stroke="#000" stroke-width="0.13">70</text>
<text x="1688.8" y="669.0" font-size="10.0" fill="#000" textLength="10.1" lengthAdjust="spacingAndGlyphs" stroke="#000" stroke-width="0.13">30</text>
<text x="1689.3" y="693.0" font-size="10.0" fill="#000" textLength="5.6" lengthAdjust="spacingAndGlyphs" stroke="#000" stroke-width="0.13">0</text>
<text x="1689.1" y="709.0" font-size="10.0" fill="#000" textLength="38.3" lengthAdjust="spacingAndGlyphs" stroke="#000" stroke-width="0.13">0.004528</text>
<text x="1689.1" y="746.0" font-size="10.0" fill="#000" textLength="18.3" lengthAdjust="spacingAndGlyphs" stroke="#000" stroke-width="0.13">0.00</text>
<text x="1689.2" y="798.0" font-size="10.0" fill="#000" textLength="41.6" lengthAdjust="spacingAndGlyphs" stroke="#000" stroke-width="0.13">-0.006122</text>
<path class="ce" d="M1686,742h2v1h-2z" fill="#000"/>
</g>
<g id="dates">
<text x="3.7" y="814.0" font-size="10.0" fill="#000" textLength="54.6" lengthAdjust="spacingAndGlyphs" stroke="#000" stroke-width="0.13">19 Nov 2018</text>
<text x="68.1" y="814.0" font-size="10.0" fill="#000" textLength="47.6" lengthAdjust="spacingAndGlyphs" stroke="#000" stroke-width="0.13">7 Dec 2018</text>
<text x="132.2" y="814.0" font-size="10.0" fill="#000" textLength="52.3" lengthAdjust="spacingAndGlyphs" stroke="#000" stroke-width="0.13">26 Dec 2018</text>
<text x="195.7" y="814.0" font-size="10.0" fill="#000" textLength="50.4" lengthAdjust="spacingAndGlyphs" stroke="#000" stroke-width="0.13">14 Jan 2019</text>
<text x="259.7" y="814.0" font-size="10.0" fill="#000" textLength="47.7" lengthAdjust="spacingAndGlyphs" stroke="#000" stroke-width="0.13">1 Feb 2019</text>
<text x="324.2" y="814.0" font-size="10.0" fill="#000" textLength="52.5" lengthAdjust="spacingAndGlyphs" stroke="#000" stroke-width="0.13">20 Feb 2019</text>
<text x="387.7" y="814.0" font-size="10.0" fill="#000" textLength="52.5" lengthAdjust="spacingAndGlyphs" stroke="#000" stroke-width="0.13">11 Mar 2019</text>
<text x="452.2" y="814.0" font-size="10.0" fill="#000" textLength="52.0" lengthAdjust="spacingAndGlyphs" stroke="#000" stroke-width="0.13">29 Mar 2019</text>
<text x="515.7" y="814.0" font-size="10.0" fill="#000" textLength="51.4" lengthAdjust="spacingAndGlyphs" stroke="#000" stroke-width="0.13">17 Apr 2019</text>
<text x="580.1" y="814.0" font-size="10.0" fill="#000" textLength="50.7" lengthAdjust="spacingAndGlyphs" stroke="#000" stroke-width="0.13">6 May 2019</text>
<text x="644.1" y="814.0" font-size="10.0" fill="#000" textLength="55.4" lengthAdjust="spacingAndGlyphs" stroke="#000" stroke-width="0.13">24 May 2019</text>
<text x="707.7" y="814.0" font-size="10.0" fill="#000" textLength="50.6" lengthAdjust="spacingAndGlyphs" stroke="#000" stroke-width="0.13">12 Jun 2019</text>
<text x="771.7" y="814.0" font-size="10.0" fill="#000" textLength="42.6" lengthAdjust="spacingAndGlyphs" stroke="#000" stroke-width="0.13">1 Jul 2019</text>
<text x="835.7" y="814.0" font-size="10.0" fill="#000" textLength="48.1" lengthAdjust="spacingAndGlyphs" stroke="#000" stroke-width="0.13">19 Jul 2019</text>
<text x="900.1" y="814.0" font-size="10.0" fill="#000" textLength="48.4" lengthAdjust="spacingAndGlyphs" stroke="#000" stroke-width="0.13">7 Aug 2019</text>
<text x="964.1" y="814.0" font-size="10.0" fill="#000" textLength="53.5" lengthAdjust="spacingAndGlyphs" stroke="#000" stroke-width="0.13">26 Aug 2019</text>
<text x="1027.7" y="814.0" font-size="10.0" fill="#000" textLength="52.6" lengthAdjust="spacingAndGlyphs" stroke="#000" stroke-width="0.13">13 Sep 2019</text>
<text x="1092.1" y="814.0" font-size="10.0" fill="#000" textLength="46.9" lengthAdjust="spacingAndGlyphs" stroke="#000" stroke-width="0.13">2 Oct 2019</text>
<text x="1156.1" y="814.0" font-size="10.0" fill="#000" textLength="51.7" lengthAdjust="spacingAndGlyphs" stroke="#000" stroke-width="0.13">21 Oct 2019</text>
<text x="1220.1" y="814.0" font-size="10.0" fill="#000" textLength="49.7" lengthAdjust="spacingAndGlyphs" stroke="#000" stroke-width="0.13">8 Nov 2019</text>
<text x="1284.1" y="814.0" font-size="10.0" fill="#000" textLength="54.8" lengthAdjust="spacingAndGlyphs" stroke="#000" stroke-width="0.13">27 Nov 2019</text>
<path class="ce" d="M5,802h1v3h-1zM69,802h1v3h-1zM133,802h1v3h-1zM197,802h1v3h-1zM261,802h1v3h-1zM325,802h1v3h-1zM389,802h1v3h-1zM453,802h1v3h-1zM517,802h1v3h-1zM581,802h1v3h-1zM645,802h1v3h-1zM709,802h1v3h-1zM773,802h1v3h-1zM837,802h1v3h-1zM901,802h1v3h-1zM965,802h1v3h-1zM1029,802h1v3h-1zM1093,802h1v3h-1zM1157,802h1v3h-1zM1221,802h1v3h-1zM1285,802h1v3h-1z" fill="#000"/>
</g>
<g id="tabs">
<g class="ce">
<rect x="0" y="822" width="1726" height="1" fill="#e3e3e3"/>
<rect x="0" y="825" width="1726" height="20" fill="#f0f0f0"/>
<rect x="0" y="844" width="1726" height="1" fill="#f8f8f8"/>
<rect x="0" y="824" width="1726" height="1" fill="#000"/>
<rect x="0" y="825" width="1" height="18" fill="#a8a8a8"/><rect x="1" y="825" width="1" height="18" fill="#696969"/>
<rect x="211" y="823" width="102" height="19" fill="#fff"/>
<rect x="210" y="824" width="1" height="19" fill="#000"/>
<rect x="313" y="824" width="1" height="19" fill="#000"/>
<rect x="210" y="842" width="104" height="1" fill="#000"/>
<rect x="211" y="843" width="104" height="1" fill="#808080"/>
<rect x="110" y="827" width="1" height="14" fill="#5a5a5a"/>
<rect x="418" y="827" width="1" height="14" fill="#5a5a5a"/>
<rect x="522" y="827" width="1" height="14" fill="#5a5a5a"/>
</g>
<text x="18.2" y="839.0" font-size="12.9" fill="#6b6b6b" textLength="80.2" lengthAdjust="spacingAndGlyphs">EURUSD,Daily</text>
<text x="120.0" y="839.0" font-size="12.9" fill="#6b6b6b" textLength="79.2" lengthAdjust="spacingAndGlyphs">USDCHF,Daily</text>
<text x="220.5" y="839.0" font-size="12.9" fill="#000" textLength="83.3" lengthAdjust="spacingAndGlyphs" stroke="#000" stroke-width="0.13">AUDUSD,Daily</text>
<text x="324.6" y="839.0" font-size="12.9" fill="#6b6b6b" textLength="81.9" lengthAdjust="spacingAndGlyphs">USDCAD,Daily</text>
<text x="427.9" y="839.0" font-size="12.9" fill="#6b6b6b" textLength="83.3" lengthAdjust="spacingAndGlyphs">USDCNH,Daily</text>
<path d="M1704.2,830v6.4l-3.6,-3.2z M1719.8,830v6.4l3.6,-3.2z" fill="#808080"/>
</g>
</svg></body></html>
